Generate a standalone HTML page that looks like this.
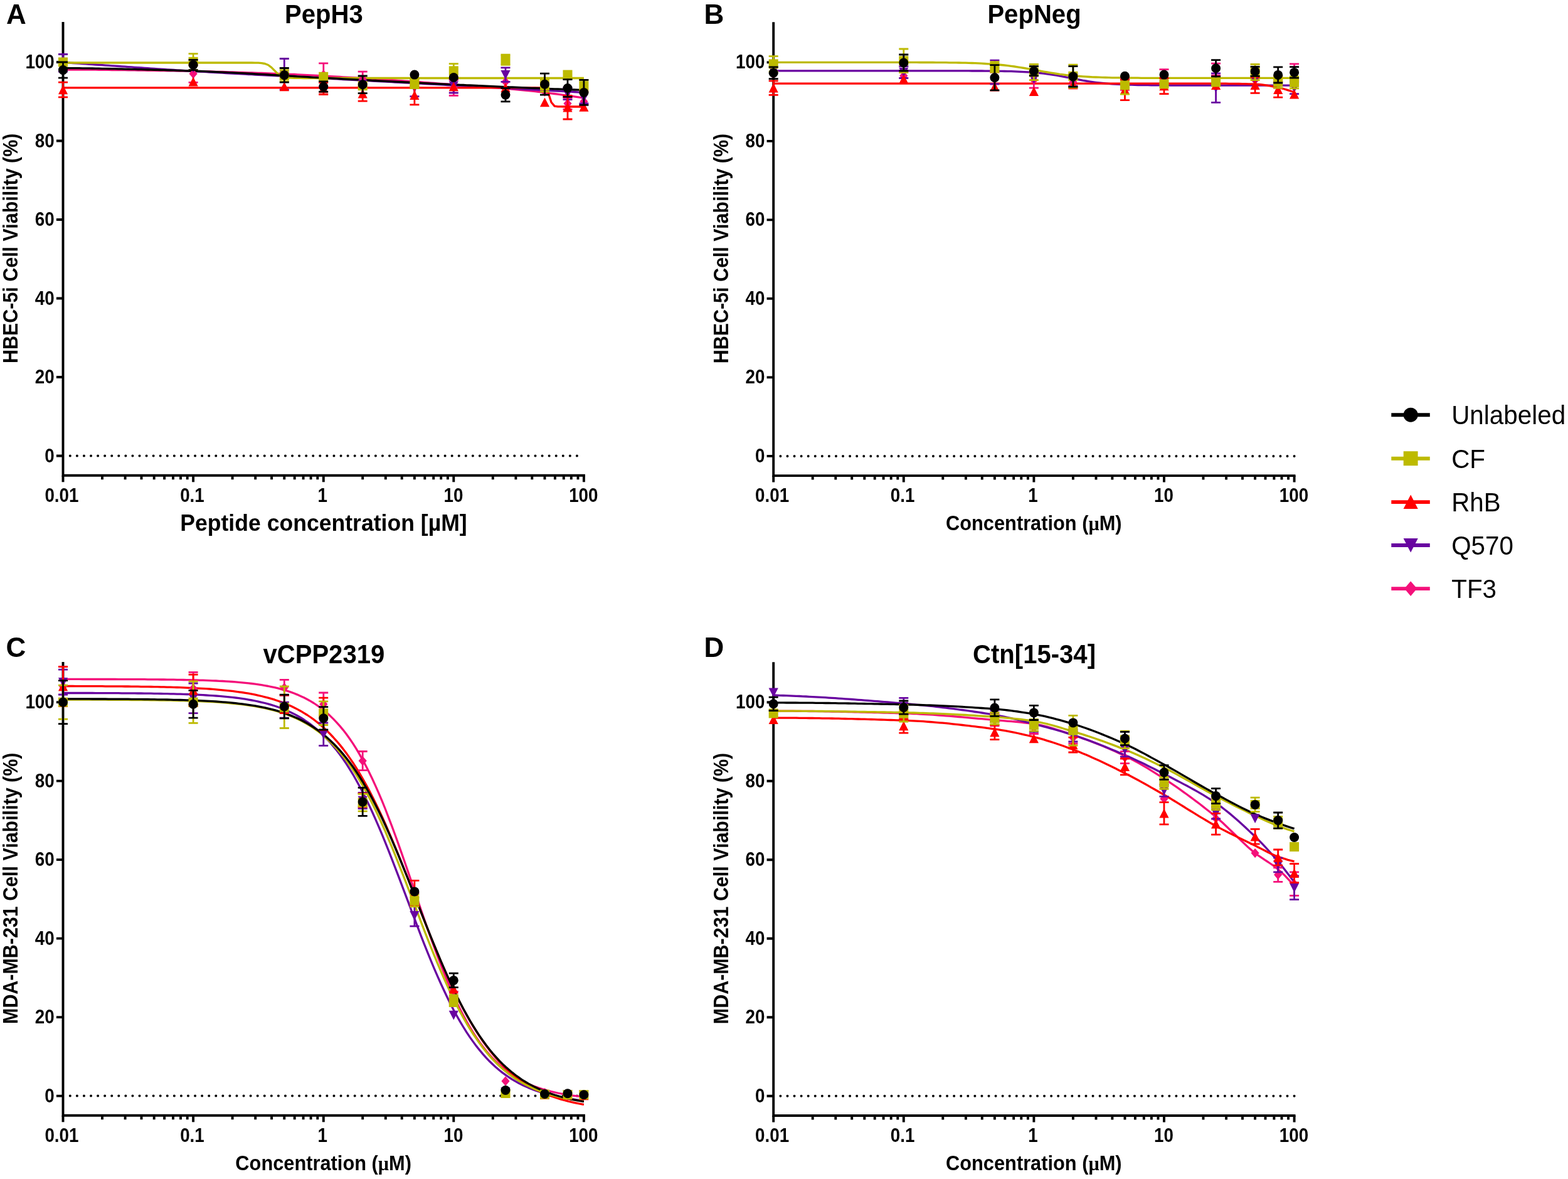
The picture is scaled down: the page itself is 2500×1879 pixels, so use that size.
<!DOCTYPE html>
<html lang="en">
<head>
<meta charset="utf-8">
<title>Cell viability of labeled peptides</title>
<style>html,body{margin:0;padding:0;background:#fff}body{width:2500px;height:1879px;overflow:hidden}svg{display:block}</style>
</head>
<body>
<svg xmlns="http://www.w3.org/2000/svg" width="2500" height="1879" viewBox="0 0 2500 1879" font-family="'Liberation Sans',Arial,Helvetica,sans-serif" fill="#000">
<rect width="2500" height="1879" fill="#fff"/>
<g id="panel-A">
<path d="M100.5 34.9V757.8H932.9" fill="none" stroke="#000" stroke-width="3.9" stroke-linejoin="miter"/>
<path d="M100.5 726.5h-10.6M100.5 601h-10.6M100.5 475.5h-10.6M100.5 350h-10.6M100.5 224.5h-10.6M100.5 99h-10.6M100.5 757.8v10.4M163 757.8v6.4M199.6 757.8v6.4M225.5 757.8v6.4M245.7 757.8v6.4M262.1 757.8v6.4M276 757.8v6.4M288 757.8v6.4M298.7 757.8v6.4M308.1 757.8v10.4M370.6 757.8v6.4M407.2 757.8v6.4M433.1 757.8v6.4M453.3 757.8v6.4M469.7 757.8v6.4M483.6 757.8v6.4M495.6 757.8v6.4M506.3 757.8v6.4M515.8 757.8v10.4M578.2 757.8v6.4M614.8 757.8v6.4M640.7 757.8v6.4M660.9 757.8v6.4M677.3 757.8v6.4M691.2 757.8v6.4M703.2 757.8v6.4M713.9 757.8v6.4M723.3 757.8v10.4M785.8 757.8v6.4M822.4 757.8v6.4M848.3 757.8v6.4M868.5 757.8v6.4M884.9 757.8v6.4M898.8 757.8v6.4M910.8 757.8v6.4M921.5 757.8v6.4M930.9 757.8v10.4" fill="none" stroke="#000" stroke-width="3.9"/>
<line x1="111.8" y1="726.5" x2="930.9" y2="726.5" stroke="#000" stroke-width="4" stroke-linecap="round" stroke-dasharray="0.01 11.06"/>
<polyline points="100.5,111 105.7,111 110.9,111 116.1,111 121.3,111 126.5,111.1 131.7,111.1 136.9,111.1 142.1,111.2 147.3,111.2 152.4,111.2 157.6,111.3 162.8,111.3 168,111.4 173.2,111.4 178.4,111.5 183.6,111.5 188.8,111.6 194,111.7 199.2,111.7 204.3,111.8 209.5,111.9 214.7,111.9 219.9,112 225.1,112.1 230.3,112.2 235.5,112.3 240.7,112.3 245.9,112.4 251.1,112.5 256.2,112.6 261.4,112.7 266.6,112.8 271.8,112.8 277,112.9 282.2,113 287.4,113.1 292.6,113.2 297.8,113.3 303,113.4 308.1,113.5 313.3,113.6 318.5,113.7 323.7,113.8 328.9,113.9 334.1,114 339.3,114.1 344.5,114.3 349.7,114.4 354.9,114.5 360.1,114.7 365.2,114.8 370.4,115 375.6,115.1 380.8,115.3 386,115.5 391.2,115.6 396.4,115.8 401.6,116 406.8,116.1 411.9,116.3 417.1,116.5 422.3,116.7 427.5,116.9 432.7,117.1 437.9,117.3 443.1,117.5 448.3,117.7 453.5,117.9 458.7,118.1 463.9,118.3 469,118.5 474.2,118.8 479.4,119.1 484.6,119.3 489.8,119.6 495,119.9 500.2,120.2 505.4,120.4 510.6,120.7 515.8,121 520.9,121.3 526.1,121.6 531.3,121.9 536.5,122.2 541.7,122.5 546.9,122.8 552.1,123.1 557.3,123.4 562.5,123.7 567.6,124 572.8,124.3 578,124.6 583.2,125 588.4,125.3 593.6,125.6 598.8,125.9 604,126.3 609.2,126.6 614.4,126.9 619.5,127.3 624.7,127.6 629.9,128 635.1,128.3 640.3,128.7 645.5,129.1 650.7,129.4 655.9,129.8 661.1,130.2 666.3,130.5 671.4,130.9 676.6,131.3 681.8,131.7 687,132.1 692.2,132.5 697.4,132.9 702.6,133.3 707.8,133.6 713,134 718.2,134.4 723.3,134.8 728.5,135.2 733.7,135.6 738.9,136 744.1,136.3 749.3,136.7 754.5,137.1 759.7,137.5 764.9,137.8 770.1,138.2 775.2,138.6 780.4,139 785.6,139.4 790.8,139.8 796,140.2 801.2,140.7 806.4,141.1 811.6,141.5 816.8,142 822,142.5 827.1,143 832.3,143.5 837.5,144 842.7,144.6 847.9,145.1 853.1,145.7 858.3,146.3 863.5,146.9 868.7,147.6 873.9,148.2 879,148.9 884.2,149.5 889.4,150.2 894.6,150.9 899.8,151.6 905,152.4 910.2,153.1 915.4,153.8 920.6,154.6 925.8,155.4 930.9,156.2" fill="none" stroke="#F4107A" stroke-width="3.3" stroke-linejoin="round"/>
<polyline points="100.5,99.4 105.7,99.7 110.9,100.1 116.1,100.5 121.3,100.8 126.5,101.2 131.7,101.6 136.9,101.9 142.1,102.3 147.3,102.7 152.4,103 157.6,103.4 162.8,103.7 168,104.1 173.2,104.4 178.4,104.8 183.6,105.2 188.8,105.5 194,105.9 199.2,106.2 204.3,106.6 209.5,106.9 214.7,107.3 219.9,107.6 225.1,108 230.3,108.4 235.5,108.7 240.7,109.1 245.9,109.4 251.1,109.8 256.2,110.1 261.4,110.5 266.6,110.8 271.8,111.2 277,111.5 282.2,111.9 287.4,112.2 292.6,112.5 297.8,112.8 303,113.2 308.1,113.5 313.3,113.8 318.5,114.1 323.7,114.4 328.9,114.7 334.1,115 339.3,115.3 344.5,115.6 349.7,115.9 354.9,116.2 360.1,116.5 365.2,116.8 370.4,117.1 375.6,117.3 380.8,117.6 386,117.9 391.2,118.2 396.4,118.5 401.6,118.7 406.8,119 411.9,119.3 417.1,119.6 422.3,119.8 427.5,120.1 432.7,120.4 437.9,120.7 443.1,120.9 448.3,121.2 453.5,121.5 458.7,121.7 463.9,122 469,122.3 474.2,122.6 479.4,122.8 484.6,123.1 489.8,123.4 495,123.7 500.2,123.9 505.4,124.2 510.6,124.5 515.8,124.8 520.9,125.1 526.1,125.3 531.3,125.6 536.5,125.9 541.7,126.2 546.9,126.5 552.1,126.8 557.3,127 562.5,127.3 567.6,127.6 572.8,127.9 578,128.2 583.2,128.4 588.4,128.7 593.6,129 598.8,129.3 604,129.6 609.2,129.9 614.4,130.1 619.5,130.4 624.7,130.7 629.9,131 635.1,131.3 640.3,131.6 645.5,131.8 650.7,132.1 655.9,132.4 661.1,132.7 666.3,133 671.4,133.2 676.6,133.5 681.8,133.8 687,134.1 692.2,134.4 697.4,134.7 702.6,134.9 707.8,135.2 713,135.5 718.2,135.8 723.3,136.1 728.5,136.4 733.7,136.6 738.9,136.9 744.1,137.2 749.3,137.5 754.5,137.8 759.7,138 764.9,138.3 770.1,138.6 775.2,138.9 780.4,139.2 785.6,139.5 790.8,139.7 796,140 801.2,140.3 806.4,140.6 811.6,140.9 816.8,141.2 822,141.4 827.1,141.7 832.3,142 837.5,142.3 842.7,142.6 847.9,142.8 853.1,143.1 858.3,143.4 863.5,143.7 868.7,144 873.9,144.3 879,144.5 884.2,144.8 889.4,145.1 894.6,145.4 899.8,145.7 905,146 910.2,146.2 915.4,146.5 920.6,146.8 925.8,147.1 930.9,147.4" fill="none" stroke="#6804A0" stroke-width="3.3" stroke-linejoin="round"/>
<polyline points="100.5,139.8 105.7,139.8 110.9,139.8 116.1,139.8 121.3,139.8 126.5,139.8 131.7,139.8 136.9,139.8 142.1,139.8 147.3,139.8 152.4,139.8 157.6,139.8 162.8,139.8 168,139.8 173.2,139.8 178.4,139.8 183.6,139.8 188.8,139.8 194,139.8 199.2,139.8 204.3,139.8 209.5,139.8 214.7,139.8 219.9,139.8 225.1,139.8 230.3,139.8 235.5,139.8 240.7,139.8 245.9,139.8 251.1,139.8 256.2,139.8 261.4,139.8 266.6,139.8 271.8,139.8 277,139.8 282.2,139.8 287.4,139.8 292.6,139.8 297.8,139.8 303,139.8 308.1,139.8 313.3,139.8 318.5,139.8 323.7,139.8 328.9,139.8 334.1,139.8 339.3,139.8 344.5,139.8 349.7,139.8 354.9,139.8 360.1,139.8 365.2,139.8 370.4,139.8 375.6,139.8 380.8,139.8 386,139.8 391.2,139.8 396.4,139.8 401.6,139.8 406.8,139.8 411.9,139.8 417.1,139.8 422.3,139.8 427.5,139.8 432.7,139.8 437.9,139.8 443.1,139.8 448.3,139.8 453.5,139.8 458.7,139.8 463.9,139.8 469,139.8 474.2,139.8 479.4,139.8 484.6,139.8 489.8,139.8 495,139.8 500.2,139.8 505.4,139.8 510.6,139.8 515.8,139.8 520.9,139.8 526.1,139.8 531.3,139.8 536.5,139.8 541.7,139.8 546.9,139.8 552.1,139.8 557.3,139.8 562.5,139.8 567.6,139.8 572.8,139.8 578,139.8 583.2,139.8 588.4,139.8 593.6,139.8 598.8,139.8 604,139.8 609.2,139.8 614.4,139.8 619.5,139.8 624.7,139.8 629.9,139.8 635.1,139.8 640.3,139.8 645.5,139.8 650.7,139.8 655.9,139.8 661.1,139.8 666.3,139.8 671.4,139.8 676.6,139.8 681.8,139.8 687,139.8 692.2,139.8 697.4,139.8 702.6,139.8 707.8,139.8 713,139.8 718.2,139.8 723.3,139.8 728.5,139.8 733.7,139.8 738.9,139.8 744.1,139.8 749.3,139.8 754.5,139.8 759.7,139.8 764.9,139.8 770.1,139.8 775.2,139.8 780.4,139.8 785.6,139.8 790.8,139.8 796,139.8 801.2,139.8 806.4,139.8 811.6,139.8 816.8,139.8 822,139.8 827.1,139.8 832.3,139.8 837.5,139.8 842.7,139.8 847.9,139.8 853.1,139.8 858.3,139.8 863.5,139.9 868.7,140.8 873.9,147.3 879,163 884.2,169.1 889.4,169.9 894.6,169.9 899.8,170 905,170 910.2,170 915.4,170 920.6,170 925.8,170 930.9,170" fill="none" stroke="#FF0000" stroke-width="3.3" stroke-linejoin="round"/>
<polyline points="100.5,100 105.7,100 110.9,100 116.1,100 121.3,100 126.5,100 131.7,100 136.9,100 142.1,100 147.3,100 152.4,100 157.6,100 162.8,100 168,100 173.2,100 178.4,100 183.6,100 188.8,100 194,100 199.2,100 204.3,100 209.5,100 214.7,100 219.9,100 225.1,100 230.3,100 235.5,100 240.7,100 245.9,100 251.1,100 256.2,100 261.4,100 266.6,100 271.8,100 277,100 282.2,100 287.4,100 292.6,100 297.8,100 303,100 308.1,100 313.3,100 318.5,100 323.7,100 328.9,100 334.1,100 339.3,100 344.5,100 349.7,100 354.9,100 360.1,100 365.2,100 370.4,100 375.6,100 380.8,100 386,100 391.2,100 396.4,100 401.6,100 406.8,100.1 411.9,100.2 417.1,100.6 422.3,101.5 427.5,103.5 432.7,107.3 437.9,112.6 443.1,117.8 448.3,121.3 453.5,123.1 458.7,123.9 463.9,124.2 469,124.4 474.2,124.4 479.4,124.4 484.6,124.5 489.8,124.5 495,124.5 500.2,124.5 505.4,124.5 510.6,124.5 515.8,124.5 520.9,124.5 526.1,124.5 531.3,124.5 536.5,124.5 541.7,124.5 546.9,124.5 552.1,124.5 557.3,124.5 562.5,124.5 567.6,124.5 572.8,124.5 578,124.5 583.2,124.5 588.4,124.5 593.6,124.5 598.8,124.5 604,124.5 609.2,124.5 614.4,124.5 619.5,124.5 624.7,124.5 629.9,124.5 635.1,124.5 640.3,124.5 645.5,124.5 650.7,124.5 655.9,124.5 661.1,124.5 666.3,124.5 671.4,124.5 676.6,124.5 681.8,124.5 687,124.5 692.2,124.5 697.4,124.5 702.6,124.5 707.8,124.5 713,124.5 718.2,124.5 723.3,124.5 728.5,124.5 733.7,124.5 738.9,124.5 744.1,124.5 749.3,124.5 754.5,124.5 759.7,124.5 764.9,124.5 770.1,124.5 775.2,124.5 780.4,124.5 785.6,124.5 790.8,124.5 796,124.5 801.2,124.5 806.4,124.5 811.6,124.5 816.8,124.5 822,124.5 827.1,124.5 832.3,124.5 837.5,124.5 842.7,124.5 847.9,124.5 853.1,124.5 858.3,124.5 863.5,124.5 868.7,124.5 873.9,124.5 879,124.5 884.2,124.5 889.4,124.5 894.6,124.5 899.8,124.5 905,124.5 910.2,124.5 915.4,124.5 920.6,124.5 925.8,124.5 930.9,124.5" fill="none" stroke="#BDBA00" stroke-width="3.3" stroke-linejoin="round"/>
<polyline points="100.5,108.5 105.7,108.5 110.9,108.6 116.1,108.6 121.3,108.7 126.5,108.7 131.7,108.8 136.9,108.9 142.1,108.9 147.3,109 152.4,109.1 157.6,109.2 162.8,109.3 168,109.4 173.2,109.5 178.4,109.6 183.6,109.7 188.8,109.8 194,109.9 199.2,110.1 204.3,110.2 209.5,110.3 214.7,110.4 219.9,110.6 225.1,110.7 230.3,110.9 235.5,111 240.7,111.1 245.9,111.3 251.1,111.4 256.2,111.6 261.4,111.7 266.6,111.9 271.8,112 277,112.2 282.2,112.4 287.4,112.5 292.6,112.7 297.8,112.8 303,113 308.1,113.2 313.3,113.3 318.5,113.5 323.7,113.7 328.9,113.9 334.1,114.1 339.3,114.3 344.5,114.6 349.7,114.8 354.9,115.1 360.1,115.3 365.2,115.6 370.4,115.8 375.6,116.1 380.8,116.4 386,116.7 391.2,116.9 396.4,117.2 401.6,117.5 406.8,117.8 411.9,118.1 417.1,118.4 422.3,118.7 427.5,119 432.7,119.4 437.9,119.7 443.1,120 448.3,120.3 453.5,120.6 458.7,120.9 463.9,121.2 469,121.5 474.2,121.8 479.4,122.1 484.6,122.4 489.8,122.7 495,123 500.2,123.3 505.4,123.6 510.6,123.9 515.8,124.1 520.9,124.4 526.1,124.7 531.3,125 536.5,125.2 541.7,125.5 546.9,125.8 552.1,126.1 557.3,126.3 562.5,126.6 567.6,126.9 572.8,127.2 578,127.4 583.2,127.7 588.4,128 593.6,128.3 598.8,128.5 604,128.8 609.2,129.1 614.4,129.4 619.5,129.6 624.7,129.9 629.9,130.2 635.1,130.4 640.3,130.7 645.5,131 650.7,131.2 655.9,131.5 661.1,131.8 666.3,132 671.4,132.3 676.6,132.6 681.8,132.8 687,133.1 692.2,133.3 697.4,133.6 702.6,133.8 707.8,134.1 713,134.3 718.2,134.6 723.3,134.8 728.5,135.1 733.7,135.3 738.9,135.5 744.1,135.8 749.3,136 754.5,136.2 759.7,136.5 764.9,136.7 770.1,136.9 775.2,137.2 780.4,137.4 785.6,137.6 790.8,137.9 796,138.1 801.2,138.3 806.4,138.5 811.6,138.8 816.8,139 822,139.2 827.1,139.4 832.3,139.7 837.5,139.9 842.7,140.1 847.9,140.3 853.1,140.5 858.3,140.7 863.5,140.9 868.7,141.2 873.9,141.4 879,141.6 884.2,141.8 889.4,142 894.6,142.2 899.8,142.4 905,142.6 910.2,142.8 915.4,143 920.6,143.2 925.8,143.4 930.9,143.6" fill="none" stroke="#000000" stroke-width="3.3" stroke-linejoin="round"/>
<path d="M308.1 103.8V131.4M300.6 103.8h15M300.6 131.4h15M515.8 100.9V137.3M508.2 100.9h15M508.2 137.3h15M578.2 114.1V138M570.7 114.1h15M570.7 138h15M723.3 127.3V152.4M715.8 127.3h15M715.8 152.4h15M905 155.5V174.3M897.5 155.5h15M897.5 174.3h15" fill="none" stroke="#F4107A" stroke-width="2.8"/>
<path d="M100.5 103.9L107.1 111.6L100.5 119.3L94 111.6Z" fill="#F4107A"/>
<path d="M308.1 109.9L314.8 117.6L308.1 125.3L301.5 117.6Z" fill="#F4107A"/>
<path d="M453.3 113.3L459.9 121L453.3 128.7L446.7 121Z" fill="#F4107A"/>
<path d="M515.8 111.4L522.4 119.1L515.8 126.8L509.1 119.1Z" fill="#F4107A"/>
<path d="M578.2 118.3L584.8 126L578.2 133.7L571.6 126Z" fill="#F4107A"/>
<path d="M660.9 129L667.5 136.7L660.9 144.4L654.3 136.7Z" fill="#F4107A"/>
<path d="M723.3 132.1L729.9 139.8L723.3 147.5L716.7 139.8Z" fill="#F4107A"/>
<path d="M806 122.7L812.6 130.4L806 138.1L799.4 130.4Z" fill="#F4107A"/>
<path d="M868.5 138.4L875.1 146.1L868.5 153.8L861.9 146.1Z" fill="#F4107A"/>
<path d="M905 157.2L911.6 164.9L905 172.6L898.4 164.9Z" fill="#F4107A"/>
<path d="M930.9 154.1L937.5 161.8L930.9 169.5L924.3 161.8Z" fill="#F4107A"/>
<path d="M100.5 86.5V114.1M93 86.5h15M93 114.1h15M453.3 93.5V142.8M445.8 93.5h15M445.8 142.8h15M660.9 126V153.6M653.4 126h15M653.4 153.6h15M723.3 125.4V148M715.8 125.4h15M715.8 148h15M806 107.8V130.4M798.5 107.8h15M798.5 130.4h15M905 139.8V158.7M897.5 139.8h15M897.5 158.7h15M930.9 146.1V164.9M923.4 146.1h15M923.4 164.9h15" fill="none" stroke="#6804A0" stroke-width="2.8"/>
<path d="M100.5 107.9L108.1 93.1H93Z" fill="#6804A0"/>
<path d="M308.1 115.4L315.8 100.6H300.5Z" fill="#6804A0"/>
<path d="M453.3 125.8L460.9 111H445.7Z" fill="#6804A0"/>
<path d="M515.8 134.9L523.4 120.1H508.1Z" fill="#6804A0"/>
<path d="M578.2 142.4L585.8 127.6H570.6Z" fill="#6804A0"/>
<path d="M660.9 147.4L668.5 132.6H653.3Z" fill="#6804A0"/>
<path d="M723.3 144.3L730.9 129.5H715.7Z" fill="#6804A0"/>
<path d="M806 126.7L813.6 111.9H798.4Z" fill="#6804A0"/>
<path d="M868.5 150.6L876.1 135.8H860.9Z" fill="#6804A0"/>
<path d="M905 156.8L912.6 142H897.4Z" fill="#6804A0"/>
<path d="M930.9 163.1L938.5 148.3H923.3Z" fill="#6804A0"/>
<path d="M100.5 131.1V154.9M93 131.1h15M93 154.9h15M515.8 131.7V150.5M508.2 131.7h15M508.2 150.5h15M578.2 137.3V161.2M570.7 137.3h15M570.7 161.2h15M660.9 136.7V166.8M653.4 136.7h15M653.4 166.8h15M905 152.4V190M897.5 152.4h15M897.5 190h15" fill="none" stroke="#FF0000" stroke-width="2.8"/>
<path d="M100.5 135.4L108.1 150.2H93Z" fill="#FF0000"/>
<path d="M308.1 122.8L315.8 137.6H300.5Z" fill="#FF0000"/>
<path d="M453.3 130.4L460.9 145.2H445.7Z" fill="#FF0000"/>
<path d="M515.8 133.5L523.4 148.3H508.1Z" fill="#FF0000"/>
<path d="M578.2 141.6L585.8 156.5H570.6Z" fill="#FF0000"/>
<path d="M660.9 144.2L668.5 159H653.3Z" fill="#FF0000"/>
<path d="M723.3 130.4L730.9 145.2H715.7Z" fill="#FF0000"/>
<path d="M806 132.2L813.6 147.1H798.4Z" fill="#FF0000"/>
<path d="M868.5 155.5L876.1 170.3H860.9Z" fill="#FF0000"/>
<path d="M905 163.6L912.6 178.4H897.4Z" fill="#FF0000"/>
<path d="M930.9 163L938.5 177.8H923.3Z" fill="#FF0000"/>
<path d="M308.1 85.6V111.3M300.6 85.6h15M300.6 111.3h15M453.3 111.6V130.4M445.8 111.6h15M445.8 130.4h15M660.9 124.1V140.5M653.4 124.1h15M653.4 140.5h15M723.3 101.6V124.1M715.8 101.6h15M715.8 124.1h15M806 87.1V103.4M798.5 87.1h15M798.5 103.4h15M868.5 127.3V146.1M861 127.3h15M861 146.1h15M930.9 127.3V146.1M923.4 127.3h15M923.4 146.1h15" fill="none" stroke="#BDBA00" stroke-width="2.8"/>
<rect x="93" y="91.5" width="15" height="15" fill="#BDBA00"/>
<rect x="300.6" y="90.9" width="15" height="15" fill="#BDBA00"/>
<rect x="445.8" y="113.5" width="15" height="15" fill="#BDBA00"/>
<rect x="508.2" y="114.8" width="15" height="15" fill="#BDBA00"/>
<rect x="570.7" y="129.2" width="15" height="15" fill="#BDBA00"/>
<rect x="653.4" y="124.8" width="15" height="15" fill="#BDBA00"/>
<rect x="715.8" y="105.4" width="15" height="15" fill="#BDBA00"/>
<rect x="798.5" y="87.8" width="15" height="15" fill="#BDBA00"/>
<rect x="861" y="129.2" width="15" height="15" fill="#BDBA00"/>
<rect x="897.5" y="111.6" width="15" height="15" fill="#BDBA00"/>
<rect x="923.4" y="129.2" width="15" height="15" fill="#BDBA00"/>
<path d="M100.5 99V124.1M93 99h15M93 124.1h15M308.1 95.3V111.6M300.6 95.3h15M300.6 111.6h15M453.3 108.5V131.1M445.8 108.5h15M445.8 131.1h15M515.8 129.8V146.1M508.2 129.8h15M508.2 146.1h15M578.2 121V148.6M570.7 121h15M570.7 148.6h15M806 140.5V161.8M798.5 140.5h15M798.5 161.8h15M868.5 117.2V151.1M861 117.2h15M861 151.1h15M905 126.7V154.3M897.5 126.7h15M897.5 154.3h15M930.9 127.3V167.4M923.4 127.3h15M923.4 167.4h15" fill="none" stroke="#000000" stroke-width="2.8"/>
<circle cx="100.5" cy="111.6" r="7.5" fill="#000000"/>
<circle cx="308.1" cy="103.4" r="7.5" fill="#000000"/>
<circle cx="453.3" cy="119.8" r="7.5" fill="#000000"/>
<circle cx="515.8" cy="138" r="7.5" fill="#000000"/>
<circle cx="578.2" cy="134.8" r="7.5" fill="#000000"/>
<circle cx="660.9" cy="119.1" r="7.5" fill="#000000"/>
<circle cx="723.3" cy="123.5" r="7.5" fill="#000000"/>
<circle cx="806" cy="151.1" r="7.5" fill="#000000"/>
<circle cx="868.5" cy="134.2" r="7.5" fill="#000000"/>
<circle cx="905" cy="140.5" r="7.5" fill="#000000"/>
<circle cx="930.9" cy="147.4" r="7.5" fill="#000000"/>
<text transform="translate(9.9 38)" font-size="44.0" font-weight="bold" text-anchor="start">A</text>
<text transform="translate(516.35 37.1) scale(1 1.065)" font-size="40.1" font-weight="bold" text-anchor="middle">PepH3</text>
<text transform="translate(86.75 736.55) scale(1 1.12)" font-size="27.8" font-weight="bold" text-anchor="end">0</text>
<text transform="translate(86.75 611.05) scale(1 1.12)" font-size="27.8" font-weight="bold" text-anchor="end">20</text>
<text transform="translate(86.75 485.55) scale(1 1.12)" font-size="27.8" font-weight="bold" text-anchor="end">40</text>
<text transform="translate(86.75 360.05) scale(1 1.12)" font-size="27.8" font-weight="bold" text-anchor="end">60</text>
<text transform="translate(86.75 234.55) scale(1 1.12)" font-size="27.8" font-weight="bold" text-anchor="end">80</text>
<text transform="translate(86.75 109.05) scale(1 1.12)" font-size="27.8" font-weight="bold" text-anchor="end">100</text>
<text transform="translate(98.45 800.4) scale(1 1.12)" font-size="27.8" font-weight="bold" text-anchor="middle">0.01</text>
<text transform="translate(306.45 800.4) scale(1 1.12)" font-size="27.8" font-weight="bold" text-anchor="middle">0.1</text>
<text transform="translate(514.35 800.4) scale(1 1.12)" font-size="27.8" font-weight="bold" text-anchor="middle">1</text>
<text transform="translate(722.9 800.4) scale(1 1.12)" font-size="27.8" font-weight="bold" text-anchor="middle">10</text>
<text transform="translate(930.35 800.4) scale(1 1.12)" font-size="27.8" font-weight="bold" text-anchor="middle">100</text>
<text transform="translate(27.9 395.75) rotate(-90) scale(1 1.07)" font-size="30.45" font-weight="bold" text-anchor="middle">HBEC-5i Cell Viability (%)</text>
<text transform="translate(515.95 846.4) scale(1 1.03)" font-size="35.6" font-weight="bold" text-anchor="middle">Peptide concentration [µM]</text>
</g>
<g id="panel-B">
<path d="M1233.2 35.2V758.1H2065.5" fill="none" stroke="#000" stroke-width="3.9" stroke-linejoin="miter"/>
<path d="M1233.2 726.9h-10.6M1233.2 601.4h-10.6M1233.2 475.9h-10.6M1233.2 350.4h-10.6M1233.2 224.9h-10.6M1233.2 99.4h-10.6M1233.2 758.1v10.4M1295.7 758.1v6.4M1332.3 758.1v6.4M1358.2 758.1v6.4M1378.3 758.1v6.4M1394.7 758.1v6.4M1408.6 758.1v6.4M1420.7 758.1v6.4M1431.3 758.1v6.4M1440.8 758.1v10.4M1503.3 758.1v6.4M1539.9 758.1v6.4M1565.8 758.1v6.4M1585.9 758.1v6.4M1602.3 758.1v6.4M1616.2 758.1v6.4M1628.3 758.1v6.4M1638.9 758.1v6.4M1648.4 758.1v10.4M1710.9 758.1v6.4M1747.5 758.1v6.4M1773.4 758.1v6.4M1793.5 758.1v6.4M1809.9 758.1v6.4M1823.8 758.1v6.4M1835.9 758.1v6.4M1846.5 758.1v6.4M1856 758.1v10.4M1918.5 758.1v6.4M1955.1 758.1v6.4M1981 758.1v6.4M2001.1 758.1v6.4M2017.5 758.1v6.4M2031.4 758.1v6.4M2043.5 758.1v6.4M2054.1 758.1v6.4M2063.6 758.1v10.4" fill="none" stroke="#000" stroke-width="3.9"/>
<line x1="1244.4" y1="726.9" x2="2063.6" y2="726.9" stroke="#000" stroke-width="4" stroke-linecap="round" stroke-dasharray="0.01 11.06"/>
<polyline points="1233.2,112.8 1238.4,112.8 1243.6,112.8 1248.8,112.8 1254,112.8 1259.2,112.8 1264.3,112.8 1269.5,112.8 1274.7,112.8 1279.9,112.8 1285.1,112.8 1290.3,112.8 1295.5,112.8 1300.7,112.8 1305.9,112.8 1311,112.8 1316.2,112.8 1321.4,112.8 1326.6,112.8 1331.8,112.8 1337,112.8 1342.2,112.8 1347.4,112.8 1352.6,112.8 1357.8,112.8 1363,112.8 1368.1,112.8 1373.3,112.8 1378.5,112.8 1383.7,112.8 1388.9,112.8 1394.1,112.8 1399.3,112.8 1404.5,112.8 1409.7,112.8 1414.9,112.8 1420,112.8 1425.2,112.8 1430.4,112.8 1435.6,112.8 1440.8,112.8 1446,112.8 1451.2,112.8 1456.4,112.8 1461.6,112.8 1466.8,112.8 1471.9,112.8 1477.1,112.9 1482.3,112.9 1487.5,112.9 1492.7,112.9 1497.9,112.9 1503.1,112.9 1508.3,112.9 1513.5,112.9 1518.7,112.9 1523.8,112.9 1529,112.9 1534.2,112.9 1539.4,112.9 1544.6,112.9 1549.8,113 1555,113 1560.2,113 1565.4,113 1570.5,113.1 1575.7,113.1 1580.9,113.2 1586.1,113.2 1591.3,113.3 1596.5,113.4 1601.7,113.5 1606.9,113.6 1612.1,113.7 1617.3,113.9 1622.5,114.1 1627.6,114.3 1632.8,114.6 1638,114.9 1643.2,115.2 1648.4,115.6 1653.6,116.1 1658.8,116.6 1664,117.2 1669.2,117.9 1674.3,118.6 1679.5,119.4 1684.7,120.2 1689.9,121.1 1695.1,122.1 1700.3,123.1 1705.5,124.1 1710.7,125.1 1715.9,126.1 1721.1,127.1 1726.2,128.1 1731.4,129 1736.6,129.8 1741.8,130.6 1747,131.3 1752.2,131.9 1757.4,132.5 1762.6,133 1767.8,133.4 1773,133.8 1778.2,134.1 1783.3,134.4 1788.5,134.7 1793.7,134.9 1798.9,135.1 1804.1,135.2 1809.3,135.3 1814.5,135.5 1819.7,135.6 1824.9,135.6 1830.1,135.7 1835.2,135.8 1840.4,135.8 1845.6,135.8 1850.8,135.9 1856,135.9 1861.2,135.9 1866.4,136 1871.6,136 1876.8,136 1882,136 1887.1,136 1892.3,136 1897.5,136 1902.7,136 1907.9,136 1913.1,136 1918.3,136 1923.5,136 1928.7,136 1933.8,136 1939,136 1944.2,136.1 1949.4,136.1 1954.6,136.1 1959.8,136.1 1965,136.1 1970.2,136.1 1975.4,136.1 1980.6,136.1 1985.8,136.1 1990.9,136.1 1996.1,136.1 2001.3,136.1 2006.5,136.1 2011.7,136.1 2016.9,136.1 2022.1,136.1 2027.3,136.1 2032.5,136.1 2037.7,136.1 2042.8,136.1 2048,136.1 2053.2,136.1 2058.4,136.1 2063.6,136.1" fill="none" stroke="#6804A0" stroke-width="3.3" stroke-linejoin="round"/>
<polyline points="1233.2,133.2 1238.4,133.2 1243.6,133.2 1248.8,133.2 1254,133.2 1259.2,133.2 1264.3,133.2 1269.5,133.2 1274.7,133.2 1279.9,133.2 1285.1,133.2 1290.3,133.2 1295.5,133.2 1300.7,133.2 1305.9,133.2 1311,133.2 1316.2,133.2 1321.4,133.2 1326.6,133.2 1331.8,133.2 1337,133.2 1342.2,133.2 1347.4,133.2 1352.6,133.2 1357.8,133.2 1363,133.2 1368.1,133.2 1373.3,133.2 1378.5,133.2 1383.7,133.2 1388.9,133.2 1394.1,133.2 1399.3,133.2 1404.5,133.2 1409.7,133.2 1414.9,133.2 1420,133.2 1425.2,133.2 1430.4,133.2 1435.6,133.2 1440.8,133.2 1446,133.2 1451.2,133.2 1456.4,133.2 1461.6,133.2 1466.8,133.2 1471.9,133.2 1477.1,133.2 1482.3,133.2 1487.5,133.2 1492.7,133.2 1497.9,133.2 1503.1,133.2 1508.3,133.2 1513.5,133.2 1518.7,133.2 1523.8,133.2 1529,133.2 1534.2,133.2 1539.4,133.2 1544.6,133.2 1549.8,133.2 1555,133.2 1560.2,133.2 1565.4,133.2 1570.5,133.2 1575.7,133.2 1580.9,133.2 1586.1,133.2 1591.3,133.2 1596.5,133.2 1601.7,133.2 1606.9,133.2 1612.1,133.2 1617.3,133.2 1622.5,133.2 1627.6,133.2 1632.8,133.2 1638,133.2 1643.2,133.2 1648.4,133.2 1653.6,133.2 1658.8,133.2 1664,133.2 1669.2,133.2 1674.3,133.2 1679.5,133.2 1684.7,133.2 1689.9,133.2 1695.1,133.2 1700.3,133.2 1705.5,133.2 1710.7,133.2 1715.9,133.2 1721.1,133.2 1726.2,133.2 1731.4,133.2 1736.6,133.2 1741.8,133.2 1747,133.2 1752.2,133.2 1757.4,133.2 1762.6,133.2 1767.8,133.2 1773,133.2 1778.2,133.2 1783.3,133.2 1788.5,133.2 1793.7,133.2 1798.9,133.2 1804.1,133.2 1809.3,133.2 1814.5,133.2 1819.7,133.2 1824.9,133.2 1830.1,133.2 1835.2,133.2 1840.4,133.2 1845.6,133.2 1850.8,133.2 1856,133.2 1861.2,133.2 1866.4,133.2 1871.6,133.2 1876.8,133.2 1882,133.2 1887.1,133.2 1892.3,133.2 1897.5,133.2 1902.7,133.2 1907.9,133.2 1913.1,133.2 1918.3,133.2 1923.5,133.2 1928.7,133.2 1933.8,133.2 1939,133.2 1944.2,133.2 1949.4,133.2 1954.6,133.2 1959.8,133.3 1965,133.3 1970.2,133.4 1975.4,133.5 1980.6,133.6 1985.8,133.7 1990.9,133.9 1996.1,134 2001.3,134.2 2006.5,134.5 2011.7,135 2016.9,135.7 2022.1,136.5 2027.3,137.5 2032.5,138.5 2037.7,139.5 2042.8,140.7 2048,142 2053.2,143.6 2058.4,145.3 2063.6,147" fill="none" stroke="#FF0000" stroke-width="3.3" stroke-linejoin="round"/>
<polyline points="1233.2,99.4 1238.4,99.4 1243.6,99.4 1248.8,99.4 1254,99.4 1259.2,99.4 1264.3,99.4 1269.5,99.4 1274.7,99.4 1279.9,99.4 1285.1,99.4 1290.3,99.4 1295.5,99.4 1300.7,99.4 1305.9,99.4 1311,99.4 1316.2,99.4 1321.4,99.4 1326.6,99.4 1331.8,99.4 1337,99.4 1342.2,99.4 1347.4,99.4 1352.6,99.4 1357.8,99.4 1363,99.4 1368.1,99.4 1373.3,99.4 1378.5,99.4 1383.7,99.4 1388.9,99.4 1394.1,99.4 1399.3,99.4 1404.5,99.4 1409.7,99.4 1414.9,99.4 1420,99.4 1425.2,99.4 1430.4,99.4 1435.6,99.4 1440.8,99.4 1446,99.4 1451.2,99.4 1456.4,99.4 1461.6,99.4 1466.8,99.5 1471.9,99.5 1477.1,99.5 1482.3,99.5 1487.5,99.5 1492.7,99.6 1497.9,99.6 1503.1,99.7 1508.3,99.7 1513.5,99.8 1518.7,99.8 1523.8,99.9 1529,100 1534.2,100.1 1539.4,100.2 1544.6,100.4 1549.8,100.5 1555,100.7 1560.2,100.9 1565.4,101.2 1570.5,101.5 1575.7,101.8 1580.9,102.1 1586.1,102.5 1591.3,103 1596.5,103.5 1601.7,104 1606.9,104.6 1612.1,105.3 1617.3,106 1622.5,106.8 1627.6,107.6 1632.8,108.5 1638,109.4 1643.2,110.3 1648.4,111.2 1653.6,112.2 1658.8,113.2 1664,114.1 1669.2,115 1674.3,115.9 1679.5,116.7 1684.7,117.5 1689.9,118.3 1695.1,118.9 1700.3,119.6 1705.5,120.1 1710.7,120.7 1715.9,121.1 1721.1,121.5 1726.2,121.9 1731.4,122.2 1736.6,122.5 1741.8,122.8 1747,123 1752.2,123.2 1757.4,123.4 1762.6,123.5 1767.8,123.6 1773,123.8 1778.2,123.9 1783.3,123.9 1788.5,124 1793.7,124.1 1798.9,124.1 1804.1,124.2 1809.3,124.2 1814.5,124.2 1819.7,124.3 1824.9,124.3 1830.1,124.3 1835.2,124.3 1840.4,124.4 1845.6,124.4 1850.8,124.4 1856,124.4 1861.2,124.4 1866.4,124.4 1871.6,124.4 1876.8,124.4 1882,124.4 1887.1,124.4 1892.3,124.4 1897.5,124.4 1902.7,124.4 1907.9,124.4 1913.1,124.4 1918.3,124.4 1923.5,124.4 1928.7,124.4 1933.8,124.4 1939,124.4 1944.2,124.4 1949.4,124.4 1954.6,124.4 1959.8,124.4 1965,124.4 1970.2,124.4 1975.4,124.4 1980.6,124.4 1985.8,124.4 1990.9,124.4 1996.1,124.4 2001.3,124.4 2006.5,124.4 2011.7,124.4 2016.9,124.4 2022.1,124.4 2027.3,124.4 2032.5,124.4 2037.7,124.4 2042.8,124.4 2048,124.4 2053.2,124.4 2058.4,124.4 2063.6,124.4" fill="none" stroke="#BDBA00" stroke-width="3.3" stroke-linejoin="round"/>
<path d="M1585.9 115V133.9M1578.4 115h15M1578.4 133.9h15M1648.4 115V140.1M1640.9 115h15M1640.9 140.1h15M1710.9 121.3V140.1M1703.4 121.3h15M1703.4 140.1h15M1793.5 124.4V143.3M1786 124.4h15M1786 143.3h15M1856 110.6V132M1848.5 110.6h15M1848.5 132h15M1938.6 101.2V120.1M1931.1 101.2h15M1931.1 120.1h15M2037.7 121.3V140.1M2030.2 121.3h15M2030.2 140.1h15M2063.6 101.9V128.2M2056.1 101.9h15M2056.1 128.2h15" fill="none" stroke="#F4107A" stroke-width="2.8"/>
<path d="M1233.2 110.5L1239.8 118.2L1233.2 125.9L1226.6 118.2Z" fill="#F4107A"/>
<path d="M1440.8 113L1447.4 120.7L1440.8 128.4L1434.2 120.7Z" fill="#F4107A"/>
<path d="M1585.9 116.7L1592.5 124.4L1585.9 132.1L1579.3 124.4Z" fill="#F4107A"/>
<path d="M1648.4 119.9L1655 127.6L1648.4 135.3L1641.8 127.6Z" fill="#F4107A"/>
<path d="M1710.9 123L1717.5 130.7L1710.9 138.4L1704.3 130.7Z" fill="#F4107A"/>
<path d="M1793.5 126.2L1800.1 133.9L1793.5 141.6L1786.9 133.9Z" fill="#F4107A"/>
<path d="M1856 113.6L1862.6 121.3L1856 129L1849.4 121.3Z" fill="#F4107A"/>
<path d="M1938.6 102.9L1945.2 110.6L1938.6 118.3L1932 110.6Z" fill="#F4107A"/>
<path d="M2001.1 119.9L2007.7 127.6L2001.1 135.3L1994.5 127.6Z" fill="#F4107A"/>
<path d="M2037.7 123L2044.3 130.7L2037.7 138.4L2031.1 130.7Z" fill="#F4107A"/>
<path d="M2063.6 107.3L2070.2 115L2063.6 122.7L2057 115Z" fill="#F4107A"/>
<path d="M1440.8 105.6V124.5M1433.3 105.6h15M1433.3 124.5h15M1585.9 96.2V133.9M1578.4 96.2h15M1578.4 133.9h15M1710.9 118.2V137M1703.4 118.2h15M1703.4 137h15M1938.6 116.9V163.4M1931.1 116.9h15M1931.1 163.4h15M2063.6 130.7V149.6M2056.1 130.7h15M2056.1 149.6h15" fill="none" stroke="#6804A0" stroke-width="2.8"/>
<path d="M1233.2 120.8L1240.8 105.9H1225.6Z" fill="#6804A0"/>
<path d="M1440.8 122.6L1448.4 107.8H1433.2Z" fill="#6804A0"/>
<path d="M1585.9 122.6L1593.5 107.8H1578.3Z" fill="#6804A0"/>
<path d="M1648.4 133.3L1656 118.5H1640.8Z" fill="#6804A0"/>
<path d="M1710.9 135.2L1718.5 120.4H1703.3Z" fill="#6804A0"/>
<path d="M1793.5 141.5L1801.1 126.6H1785.9Z" fill="#6804A0"/>
<path d="M1856 138.3L1863.6 123.5H1848.4Z" fill="#6804A0"/>
<path d="M1938.6 147.7L1946.2 132.9H1931Z" fill="#6804A0"/>
<path d="M2001.1 135.2L2008.7 120.4H1993.5Z" fill="#6804A0"/>
<path d="M2037.7 141.5L2045.3 126.6H2030.1Z" fill="#6804A0"/>
<path d="M2063.6 147.7L2071.2 132.9H2056Z" fill="#6804A0"/>
<path d="M1233.2 128.8V151.4M1225.7 128.8h15M1225.7 151.4h15M1793.5 127V159.6M1786 127h15M1786 159.6h15M1856 124.5V149.6M1848.5 124.5h15M1848.5 149.6h15M2001.1 123.2V148.3M1993.6 123.2h15M1993.6 148.3h15M2037.7 130.1V155.2M2030.2 130.1h15M2030.2 155.2h15" fill="none" stroke="#FF0000" stroke-width="2.8"/>
<path d="M1233.2 132.5L1240.8 147.4H1225.6Z" fill="#FF0000"/>
<path d="M1440.8 118.7L1448.4 133.6H1433.2Z" fill="#FF0000"/>
<path d="M1585.9 130.7L1593.5 145.5H1578.3Z" fill="#FF0000"/>
<path d="M1648.4 138.2L1656 153H1640.8Z" fill="#FF0000"/>
<path d="M1710.9 127.5L1718.5 142.3H1703.3Z" fill="#FF0000"/>
<path d="M1793.5 135.7L1801.1 150.5H1785.9Z" fill="#FF0000"/>
<path d="M1856 129.4L1863.6 144.2H1848.4Z" fill="#FF0000"/>
<path d="M1938.6 128.1L1946.2 143H1931Z" fill="#FF0000"/>
<path d="M2001.1 128.1L2008.7 143H1993.5Z" fill="#FF0000"/>
<path d="M2037.7 135L2045.3 149.9H2030.1Z" fill="#FF0000"/>
<path d="M2063.6 142.6L2071.2 157.4H2056Z" fill="#FF0000"/>
<path d="M1233.2 89.6V114.1M1225.7 89.6h15M1225.7 114.1h15M1440.8 78V115.7M1433.3 78h15M1433.3 115.7h15M1585.9 98.7V115M1578.4 98.7h15M1578.4 115h15M1648.4 102.5V127.6M1640.9 102.5h15M1640.9 127.6h15M1710.9 103.1V139.5M1703.4 103.1h15M1703.4 139.5h15M1793.5 121.3V150.2M1786 121.3h15M1786 150.2h15M2001.1 102.5V127.6M1993.6 102.5h15M1993.6 127.6h15M2037.7 121.3V140.1M2030.2 121.3h15M2030.2 140.1h15M2063.6 121.9V140.8M2056.1 121.9h15M2056.1 140.8h15" fill="none" stroke="#BDBA00" stroke-width="2.8"/>
<rect x="1225.7" y="94.4" width="15" height="15" fill="#BDBA00"/>
<rect x="1433.3" y="89.3" width="15" height="15" fill="#BDBA00"/>
<rect x="1578.4" y="99.4" width="15" height="15" fill="#BDBA00"/>
<rect x="1640.9" y="107.5" width="15" height="15" fill="#BDBA00"/>
<rect x="1703.4" y="113.8" width="15" height="15" fill="#BDBA00"/>
<rect x="1786" y="128.2" width="15" height="15" fill="#BDBA00"/>
<rect x="1848.5" y="126.4" width="15" height="15" fill="#BDBA00"/>
<rect x="1931.1" y="123.5" width="15" height="15" fill="#BDBA00"/>
<rect x="1993.6" y="107.5" width="15" height="15" fill="#BDBA00"/>
<rect x="2030.2" y="123.2" width="15" height="15" fill="#BDBA00"/>
<rect x="2056.1" y="123.9" width="15" height="15" fill="#BDBA00"/>
<path d="M1233.2 106.9V125.7M1225.7 106.9h15M1225.7 125.7h15M1440.8 87V113M1433.3 87h15M1433.3 113h15M1585.9 103.7V143.9M1578.4 103.7h15M1578.4 143.9h15M1648.4 105.6V120.7M1640.9 105.6h15M1640.9 120.7h15M1710.9 105.6V138.3M1703.4 105.6h15M1703.4 138.3h15M1938.6 95.6V121.9M1931.1 95.6h15M1931.1 121.9h15M2001.1 106.3V121.3M1993.6 106.3h15M1993.6 121.3h15M2037.7 106.9V132M2030.2 106.9h15M2030.2 132h15M2063.6 106.6V124.1M2056.1 106.6h15M2056.1 124.1h15" fill="none" stroke="#000000" stroke-width="2.8"/>
<circle cx="1233.2" cy="116.3" r="7.5" fill="#000000"/>
<circle cx="1440.8" cy="100" r="7.5" fill="#000000"/>
<circle cx="1585.9" cy="123.8" r="7.5" fill="#000000"/>
<circle cx="1648.4" cy="113.2" r="7.5" fill="#000000"/>
<circle cx="1710.9" cy="121.9" r="7.5" fill="#000000"/>
<circle cx="1793.5" cy="121.3" r="7.5" fill="#000000"/>
<circle cx="1856" cy="119.1" r="7.5" fill="#000000"/>
<circle cx="1938.6" cy="108.8" r="7.5" fill="#000000"/>
<circle cx="2001.1" cy="113.8" r="7.5" fill="#000000"/>
<circle cx="2037.7" cy="119.4" r="7.5" fill="#000000"/>
<circle cx="2063.6" cy="115.4" r="7.5" fill="#000000"/>
<text transform="translate(1122.6 38)" font-size="44.0" font-weight="bold" text-anchor="start">B</text>
<text transform="translate(1649 37.1) scale(1 1.065)" font-size="40.1" font-weight="bold" text-anchor="middle">PepNeg</text>
<text transform="translate(1219.4 736.85) scale(1 1.12)" font-size="27.8" font-weight="bold" text-anchor="end">0</text>
<text transform="translate(1219.4 611.35) scale(1 1.12)" font-size="27.8" font-weight="bold" text-anchor="end">20</text>
<text transform="translate(1219.4 485.85) scale(1 1.12)" font-size="27.8" font-weight="bold" text-anchor="end">40</text>
<text transform="translate(1219.4 360.35) scale(1 1.12)" font-size="27.8" font-weight="bold" text-anchor="end">60</text>
<text transform="translate(1219.4 234.85) scale(1 1.12)" font-size="27.8" font-weight="bold" text-anchor="end">80</text>
<text transform="translate(1219.4 109.35) scale(1 1.12)" font-size="27.8" font-weight="bold" text-anchor="end">100</text>
<text transform="translate(1231.1 800.4) scale(1 1.12)" font-size="27.8" font-weight="bold" text-anchor="middle">0.01</text>
<text transform="translate(1439.1 800.4) scale(1 1.12)" font-size="27.8" font-weight="bold" text-anchor="middle">0.1</text>
<text transform="translate(1647 800.4) scale(1 1.12)" font-size="27.8" font-weight="bold" text-anchor="middle">1</text>
<text transform="translate(1855.55 800.4) scale(1 1.12)" font-size="27.8" font-weight="bold" text-anchor="middle">10</text>
<text transform="translate(2063 800.4) scale(1 1.12)" font-size="27.8" font-weight="bold" text-anchor="middle">100</text>
<text transform="translate(1160.55 396.05) rotate(-90) scale(1 1.07)" font-size="30.45" font-weight="bold" text-anchor="middle">HBEC-5i Cell Viability (%)</text>
<text transform="translate(1648.3 845.2) scale(1 1.07)" font-size="30.8" font-weight="bold" text-anchor="middle">Concentration (<tspan font-family="'Liberation Serif','DejaVu Serif',serif" font-weight="bold" font-size="30">µ</tspan>M)</text>
</g>
<g id="panel-C">
<path d="M100.5 1055V1777.8H932.9" fill="none" stroke="#000" stroke-width="3.9" stroke-linejoin="miter"/>
<path d="M100.5 1746.6h-10.6M100.5 1621.1h-10.6M100.5 1495.6h-10.6M100.5 1370.1h-10.6M100.5 1244.6h-10.6M100.5 1119.1h-10.6M100.5 1777.8v10.4M163 1777.8v6.4M199.6 1777.8v6.4M225.5 1777.8v6.4M245.7 1777.8v6.4M262.1 1777.8v6.4M276 1777.8v6.4M288 1777.8v6.4M298.7 1777.8v6.4M308.1 1777.8v10.4M370.6 1777.8v6.4M407.2 1777.8v6.4M433.1 1777.8v6.4M453.3 1777.8v6.4M469.7 1777.8v6.4M483.6 1777.8v6.4M495.6 1777.8v6.4M506.3 1777.8v6.4M515.8 1777.8v10.4M578.2 1777.8v6.4M614.8 1777.8v6.4M640.7 1777.8v6.4M660.9 1777.8v6.4M677.3 1777.8v6.4M691.2 1777.8v6.4M703.2 1777.8v6.4M713.9 1777.8v6.4M723.3 1777.8v10.4M785.8 1777.8v6.4M822.4 1777.8v6.4M848.3 1777.8v6.4M868.5 1777.8v6.4M884.9 1777.8v6.4M898.8 1777.8v6.4M910.8 1777.8v6.4M921.5 1777.8v6.4M930.9 1777.8v10.4" fill="none" stroke="#000" stroke-width="3.9"/>
<line x1="111.8" y1="1746.6" x2="930.9" y2="1746.6" stroke="#000" stroke-width="4" stroke-linecap="round" stroke-dasharray="0.01 11.06"/>
<polyline points="100.5,1082.4 105.7,1082.4 110.9,1082.4 116.1,1082.4 121.3,1082.4 126.5,1082.4 131.7,1082.5 136.9,1082.5 142.1,1082.5 147.3,1082.5 152.4,1082.5 157.6,1082.5 162.8,1082.5 168,1082.5 173.2,1082.5 178.4,1082.5 183.6,1082.5 188.8,1082.6 194,1082.6 199.2,1082.6 204.3,1082.6 209.5,1082.6 214.7,1082.7 219.9,1082.7 225.1,1082.7 230.3,1082.7 235.5,1082.8 240.7,1082.8 245.9,1082.9 251.1,1082.9 256.2,1083 261.4,1083 266.6,1083.1 271.8,1083.1 277,1083.2 282.2,1083.3 287.4,1083.4 292.6,1083.5 297.8,1083.6 303,1083.7 308.1,1083.8 313.3,1083.9 318.5,1084.1 323.7,1084.2 328.9,1084.4 334.1,1084.6 339.3,1084.8 344.5,1085 349.7,1085.3 354.9,1085.5 360.1,1085.8 365.2,1086.2 370.4,1086.5 375.6,1086.9 380.8,1087.3 386,1087.8 391.2,1088.3 396.4,1088.9 401.6,1089.5 406.8,1090.2 411.9,1090.9 417.1,1091.7 422.3,1092.6 427.5,1093.5 432.7,1094.6 437.9,1095.7 443.1,1096.9 448.3,1098.3 453.5,1099.8 458.7,1101.4 463.9,1103.1 469,1105 474.2,1107.1 479.4,1109.4 484.6,1111.8 489.8,1114.5 495,1117.4 500.2,1120.5 505.4,1124 510.6,1127.7 515.8,1131.6 520.9,1136 526.1,1140.6 531.3,1145.6 536.5,1151.1 541.7,1156.9 546.9,1163.1 552.1,1169.8 557.3,1177 562.5,1184.6 567.6,1192.7 572.8,1201.4 578,1210.6 583.2,1220.3 588.4,1230.5 593.6,1241.3 598.8,1252.6 604,1264.4 609.2,1276.7 614.4,1289.5 619.5,1302.8 624.7,1316.4 629.9,1330.5 635.1,1344.9 640.3,1359.6 645.5,1374.5 650.7,1389.6 655.9,1404.8 661.1,1420.1 666.3,1435.4 671.4,1450.5 676.6,1465.6 681.8,1480.5 687,1495.1 692.2,1509.4 697.4,1523.4 702.6,1536.9 707.8,1550.1 713,1562.8 718.2,1575 723.3,1586.6 728.5,1597.8 733.7,1608.4 738.9,1618.5 744.1,1628.1 749.3,1637.1 754.5,1645.7 759.7,1653.7 764.9,1661.2 770.1,1668.2 775.2,1674.8 780.4,1680.9 785.6,1686.6 790.8,1691.9 796,1696.9 801.2,1701.4 806.4,1705.7 811.6,1709.6 816.8,1713.2 822,1716.6 827.1,1719.6 832.3,1722.5 837.5,1725.1 842.7,1727.5 847.9,1729.7 853.1,1731.7 858.3,1733.6 863.5,1735.3 868.7,1736.9 873.9,1738.3 879,1739.7 884.2,1740.9 889.4,1742 894.6,1743 899.8,1743.9 905,1744.8 910.2,1745.6 915.4,1746.3 920.6,1746.9 925.8,1747.5 930.9,1748.1" fill="none" stroke="#F4107A" stroke-width="3.3" stroke-linejoin="round"/>
<polyline points="100.5,1104.4 105.7,1104.5 110.9,1104.5 116.1,1104.5 121.3,1104.5 126.5,1104.5 131.7,1104.5 136.9,1104.5 142.1,1104.5 147.3,1104.5 152.4,1104.6 157.6,1104.6 162.8,1104.6 168,1104.6 173.2,1104.6 178.4,1104.7 183.6,1104.7 188.8,1104.7 194,1104.8 199.2,1104.8 204.3,1104.8 209.5,1104.9 214.7,1104.9 219.9,1105 225.1,1105 230.3,1105.1 235.5,1105.2 240.7,1105.2 245.9,1105.3 251.1,1105.4 256.2,1105.5 261.4,1105.6 266.6,1105.7 271.8,1105.8 277,1105.9 282.2,1106.1 287.4,1106.2 292.6,1106.4 297.8,1106.5 303,1106.7 308.1,1106.9 313.3,1107.2 318.5,1107.4 323.7,1107.7 328.9,1108 334.1,1108.3 339.3,1108.6 344.5,1109 349.7,1109.4 354.9,1109.9 360.1,1110.3 365.2,1110.9 370.4,1111.4 375.6,1112 380.8,1112.7 386,1113.4 391.2,1114.2 396.4,1115.1 401.6,1116 406.8,1117 411.9,1118.1 417.1,1119.3 422.3,1120.5 427.5,1121.9 432.7,1123.4 437.9,1125 443.1,1126.8 448.3,1128.7 453.5,1130.7 458.7,1133 463.9,1135.4 469,1137.9 474.2,1140.7 479.4,1143.7 484.6,1147 489.8,1150.5 495,1154.2 500.2,1158.2 505.4,1162.5 510.6,1167.2 515.8,1172.1 520.9,1177.4 526.1,1183 531.3,1189.1 536.5,1195.5 541.7,1202.3 546.9,1209.5 552.1,1217.2 557.3,1225.3 562.5,1233.8 567.6,1242.8 572.8,1252.2 578,1262.1 583.2,1272.4 588.4,1283.1 593.6,1294.3 598.8,1305.9 604,1317.8 609.2,1330.1 614.4,1342.8 619.5,1355.7 624.7,1368.9 629.9,1382.3 635.1,1395.9 640.3,1409.6 645.5,1423.4 650.7,1437.2 655.9,1451 661.1,1464.7 666.3,1478.3 671.4,1491.8 676.6,1505.1 681.8,1518.1 687,1530.8 692.2,1543.3 697.4,1555.3 702.6,1567 707.8,1578.3 713,1589.2 718.2,1599.7 723.3,1609.7 728.5,1619.2 733.7,1628.4 738.9,1637 744.1,1645.3 749.3,1653.1 754.5,1660.4 759.7,1667.4 764.9,1673.9 770.1,1680.1 775.2,1685.9 780.4,1691.3 785.6,1696.3 790.8,1701.1 796,1705.5 801.2,1709.6 806.4,1713.4 811.6,1717 816.8,1720.3 822,1723.4 827.1,1726.2 832.3,1728.9 837.5,1731.3 842.7,1733.6 847.9,1735.7 853.1,1737.7 858.3,1739.5 863.5,1741.1 868.7,1742.7 873.9,1744.1 879,1745.4 884.2,1746.6 889.4,1747.7 894.6,1748.8 899.8,1749.7 905,1750.6 910.2,1751.4 915.4,1752.1 920.6,1752.8 925.8,1753.5 930.9,1754" fill="none" stroke="#6804A0" stroke-width="3.3" stroke-linejoin="round"/>
<polyline points="100.5,1093.5 105.7,1093.5 110.9,1093.5 116.1,1093.5 121.3,1093.6 126.5,1093.6 131.7,1093.6 136.9,1093.6 142.1,1093.6 147.3,1093.7 152.4,1093.7 157.6,1093.7 162.8,1093.7 168,1093.8 173.2,1093.8 178.4,1093.8 183.6,1093.9 188.8,1093.9 194,1093.9 199.2,1094 204.3,1094 209.5,1094.1 214.7,1094.1 219.9,1094.2 225.1,1094.3 230.3,1094.4 235.5,1094.4 240.7,1094.5 245.9,1094.6 251.1,1094.7 256.2,1094.8 261.4,1094.9 266.6,1095.1 271.8,1095.2 277,1095.4 282.2,1095.5 287.4,1095.7 292.6,1095.9 297.8,1096.1 303,1096.3 308.1,1096.5 313.3,1096.8 318.5,1097.1 323.7,1097.4 328.9,1097.7 334.1,1098 339.3,1098.4 344.5,1098.8 349.7,1099.3 354.9,1099.8 360.1,1100.3 365.2,1100.8 370.4,1101.4 375.6,1102.1 380.8,1102.8 386,1103.5 391.2,1104.3 396.4,1105.2 401.6,1106.2 406.8,1107.2 411.9,1108.3 417.1,1109.5 422.3,1110.8 427.5,1112.2 432.7,1113.6 437.9,1115.2 443.1,1117 448.3,1118.8 453.5,1120.8 458.7,1122.9 463.9,1125.2 469,1127.7 474.2,1130.4 479.4,1133.2 484.6,1136.3 489.8,1139.5 495,1143 500.2,1146.7 505.4,1150.7 510.6,1155 515.8,1159.5 520.9,1164.4 526.1,1169.5 531.3,1175 536.5,1180.8 541.7,1186.9 546.9,1193.4 552.1,1200.3 557.3,1207.6 562.5,1215.2 567.6,1223.2 572.8,1231.7 578,1240.5 583.2,1249.8 588.4,1259.4 593.6,1269.4 598.8,1279.9 604,1290.6 609.2,1301.8 614.4,1313.3 619.5,1325.1 624.7,1337.2 629.9,1349.6 635.1,1362.2 640.3,1375.1 645.5,1388.1 650.7,1401.2 655.9,1414.5 661.1,1427.7 666.3,1441.1 671.4,1454.3 676.6,1467.5 681.8,1480.7 687,1493.6 692.2,1506.4 697.4,1519 702.6,1531.3 707.8,1543.3 713,1555.1 718.2,1566.5 723.3,1577.5 728.5,1588.2 733.7,1598.5 738.9,1608.5 744.1,1618 749.3,1627.1 754.5,1635.9 759.7,1644.2 764.9,1652.1 770.1,1659.7 775.2,1666.8 780.4,1673.6 785.6,1680 790.8,1686.1 796,1691.8 801.2,1697.2 806.4,1702.2 811.6,1707 816.8,1711.5 822,1715.6 827.1,1719.6 832.3,1723.2 837.5,1726.7 842.7,1729.9 847.9,1732.9 853.1,1735.7 858.3,1738.3 863.5,1740.7 868.7,1742.9 873.9,1745 879,1747 884.2,1748.8 889.4,1750.5 894.6,1752.1 899.8,1753.5 905,1754.9 910.2,1756.1 915.4,1757.3 920.6,1758.4 925.8,1759.4 930.9,1760.3" fill="none" stroke="#FF0000" stroke-width="3.3" stroke-linejoin="round"/>
<polyline points="100.5,1115.1 105.7,1115.1 110.9,1115.1 116.1,1115.1 121.3,1115.1 126.5,1115.1 131.7,1115.1 136.9,1115.2 142.1,1115.2 147.3,1115.2 152.4,1115.2 157.6,1115.2 162.8,1115.2 168,1115.2 173.2,1115.3 178.4,1115.3 183.6,1115.3 188.8,1115.3 194,1115.4 199.2,1115.4 204.3,1115.4 209.5,1115.5 214.7,1115.5 219.9,1115.5 225.1,1115.6 230.3,1115.6 235.5,1115.7 240.7,1115.8 245.9,1115.8 251.1,1115.9 256.2,1116 261.4,1116 266.6,1116.1 271.8,1116.2 277,1116.3 282.2,1116.5 287.4,1116.6 292.6,1116.7 297.8,1116.9 303,1117 308.1,1117.2 313.3,1117.4 318.5,1117.6 323.7,1117.8 328.9,1118.1 334.1,1118.3 339.3,1118.6 344.5,1118.9 349.7,1119.3 354.9,1119.7 360.1,1120.1 365.2,1120.5 370.4,1121 375.6,1121.5 380.8,1122.1 386,1122.7 391.2,1123.3 396.4,1124 401.6,1124.8 406.8,1125.7 411.9,1126.6 417.1,1127.6 422.3,1128.6 427.5,1129.8 432.7,1131.1 437.9,1132.4 443.1,1133.9 448.3,1135.5 453.5,1137.3 458.7,1139.1 463.9,1141.2 469,1143.4 474.2,1145.7 479.4,1148.3 484.6,1151 489.8,1154 495,1157.2 500.2,1160.6 505.4,1164.3 510.6,1168.3 515.8,1172.5 520.9,1177.1 526.1,1181.9 531.3,1187.1 536.5,1192.7 541.7,1198.6 546.9,1204.9 552.1,1211.6 557.3,1218.8 562.5,1226.3 567.6,1234.2 572.8,1242.6 578,1251.5 583.2,1260.7 588.4,1270.4 593.6,1280.6 598.8,1291.1 604,1302.1 609.2,1313.5 614.4,1325.2 619.5,1337.3 624.7,1349.7 629.9,1362.4 635.1,1375.4 640.3,1388.6 645.5,1401.9 650.7,1415.4 655.9,1429 661.1,1442.6 666.3,1456.2 671.4,1469.7 676.6,1483.1 681.8,1496.4 687,1509.5 692.2,1522.3 697.4,1534.9 702.6,1547.1 707.8,1559 713,1570.6 718.2,1581.7 723.3,1592.5 728.5,1602.8 733.7,1612.8 738.9,1622.2 744.1,1631.3 749.3,1639.9 754.5,1648 759.7,1655.7 764.9,1663.1 770.1,1670 775.2,1676.4 780.4,1682.6 785.6,1688.3 790.8,1693.7 796,1698.7 801.2,1703.4 806.4,1707.8 811.6,1711.9 816.8,1715.7 822,1719.3 827.1,1722.6 832.3,1725.6 837.5,1728.5 842.7,1731.1 847.9,1733.6 853.1,1735.9 858.3,1738 863.5,1739.9 868.7,1741.7 873.9,1743.4 879,1744.9 884.2,1746.3 889.4,1747.6 894.6,1748.9 899.8,1750 905,1751 910.2,1752 915.4,1752.8 920.6,1753.6 925.8,1754.4 930.9,1755.1" fill="none" stroke="#BDBA00" stroke-width="3.3" stroke-linejoin="round"/>
<polyline points="100.5,1113.9 105.7,1113.9 110.9,1113.9 116.1,1113.9 121.3,1113.9 126.5,1113.9 131.7,1113.9 136.9,1113.9 142.1,1113.9 147.3,1114 152.4,1114 157.6,1114 162.8,1114 168,1114 173.2,1114.1 178.4,1114.1 183.6,1114.1 188.8,1114.1 194,1114.2 199.2,1114.2 204.3,1114.2 209.5,1114.3 214.7,1114.3 219.9,1114.4 225.1,1114.4 230.3,1114.5 235.5,1114.5 240.7,1114.6 245.9,1114.7 251.1,1114.8 256.2,1114.8 261.4,1114.9 266.6,1115 271.8,1115.1 277,1115.3 282.2,1115.4 287.4,1115.5 292.6,1115.7 297.8,1115.8 303,1116 308.1,1116.2 313.3,1116.4 318.5,1116.6 323.7,1116.9 328.9,1117.1 334.1,1117.4 339.3,1117.7 344.5,1118 349.7,1118.4 354.9,1118.8 360.1,1119.2 365.2,1119.7 370.4,1120.1 375.6,1120.7 380.8,1121.3 386,1121.9 391.2,1122.6 396.4,1123.3 401.6,1124.1 406.8,1124.9 411.9,1125.9 417.1,1126.9 422.3,1127.9 427.5,1129.1 432.7,1130.4 437.9,1131.7 443.1,1133.2 448.3,1134.8 453.5,1136.5 458.7,1138.4 463.9,1140.4 469,1142.5 474.2,1144.8 479.4,1147.3 484.6,1150 489.8,1152.9 495,1156 500.2,1159.3 505.4,1162.8 510.6,1166.6 515.8,1170.7 520.9,1175.1 526.1,1179.7 531.3,1184.7 536.5,1190 541.7,1195.6 546.9,1201.6 552.1,1208 557.3,1214.7 562.5,1221.8 567.6,1229.3 572.8,1237.2 578,1245.5 583.2,1254.3 588.4,1263.4 593.6,1273 598.8,1282.9 604,1293.3 609.2,1304 614.4,1315.2 619.5,1326.6 624.7,1338.4 629.9,1350.5 635.1,1362.9 640.3,1375.5 645.5,1388.3 650.7,1401.2 655.9,1414.3 661.1,1427.5 666.3,1440.7 671.4,1453.9 676.6,1467.1 681.8,1480.2 687,1493.1 692.2,1505.9 697.4,1518.4 702.6,1530.8 707.8,1542.8 713,1554.6 718.2,1566 723.3,1577 728.5,1587.7 733.7,1598 738.9,1607.9 744.1,1617.4 749.3,1626.5 754.5,1635.2 759.7,1643.5 764.9,1651.3 770.1,1658.8 775.2,1665.8 780.4,1672.5 785.6,1678.8 790.8,1684.7 796,1690.3 801.2,1695.6 806.4,1700.5 811.6,1705.1 816.8,1709.4 822,1713.5 827.1,1717.2 832.3,1720.8 837.5,1724 842.7,1727.1 847.9,1729.9 853.1,1732.6 858.3,1735.1 863.5,1737.3 868.7,1739.5 873.9,1741.4 879,1743.3 884.2,1745 889.4,1746.5 894.6,1748 899.8,1749.4 905,1750.6 910.2,1751.8 915.4,1752.8 920.6,1753.8 925.8,1754.7 930.9,1755.6" fill="none" stroke="#000000" stroke-width="3.3" stroke-linejoin="round"/>
<path d="M100.5 1062.6V1125.4M93 1062.6h15M93 1125.4h15M308.1 1071.4V1122.9M300.6 1071.4h15M300.6 1122.9h15M453.3 1083.3V1108.4M445.8 1083.3h15M445.8 1108.4h15M515.8 1104V1140.4M508.2 1104h15M508.2 1140.4h15M578.2 1197.5V1227.7M570.7 1197.5h15M570.7 1227.7h15M660.9 1423.4V1442.3M653.4 1423.4h15M653.4 1442.3h15M723.3 1580.3V1599.1M715.8 1580.3h15M715.8 1599.1h15" fill="none" stroke="#F4107A" stroke-width="2.8"/>
<path d="M100.5 1086.3L107.1 1094L100.5 1101.7L94 1094Z" fill="#F4107A"/>
<path d="M308.1 1089.4L314.8 1097.1L308.1 1104.8L301.5 1097.1Z" fill="#F4107A"/>
<path d="M453.3 1088.2L459.9 1095.9L453.3 1103.6L446.7 1095.9Z" fill="#F4107A"/>
<path d="M515.8 1114.5L522.4 1122.2L515.8 1129.9L509.1 1122.2Z" fill="#F4107A"/>
<path d="M578.2 1204.9L584.8 1212.6L578.2 1220.3L571.6 1212.6Z" fill="#F4107A"/>
<path d="M660.9 1425.1L667.5 1432.8L660.9 1440.5L654.3 1432.8Z" fill="#F4107A"/>
<path d="M723.3 1582L729.9 1589.7L723.3 1597.4L716.7 1589.7Z" fill="#F4107A"/>
<path d="M806 1715.3L812.6 1723L806 1730.7L799.4 1723Z" fill="#F4107A"/>
<path d="M868.5 1733.9L875.1 1741.6L868.5 1749.3L861.9 1741.6Z" fill="#F4107A"/>
<path d="M905 1735.8L911.6 1743.5L905 1751.2L898.4 1743.5Z" fill="#F4107A"/>
<path d="M930.9 1737L937.5 1744.7L930.9 1752.4L924.3 1744.7Z" fill="#F4107A"/>
<path d="M100.5 1067.2V1107M93 1067.2h15M93 1107h15M308.1 1089V1136.7M300.6 1089h15M300.6 1136.7h15M453.3 1119.1V1144.2M445.8 1119.1h15M445.8 1144.2h15M515.8 1152V1188.4M508.2 1152h15M508.2 1188.4h15M578.2 1263.4V1288.5M570.7 1263.4h15M570.7 1288.5h15M660.9 1442.3V1476.1M653.4 1442.3h15M653.4 1476.1h15" fill="none" stroke="#6804A0" stroke-width="2.8"/>
<path d="M100.5 1094.7L108.1 1079.9H93Z" fill="#6804A0"/>
<path d="M308.1 1120.4L315.8 1105.6H300.5Z" fill="#6804A0"/>
<path d="M453.3 1139.2L460.9 1124.4H445.7Z" fill="#6804A0"/>
<path d="M515.8 1177.8L523.4 1163H508.1Z" fill="#6804A0"/>
<path d="M578.2 1283.6L585.8 1268.8H570.6Z" fill="#6804A0"/>
<path d="M660.9 1466.8L668.5 1452H653.3Z" fill="#6804A0"/>
<path d="M723.3 1625.6L730.9 1610.7H715.7Z" fill="#6804A0"/>
<path d="M806 1747.9L813.6 1733.1H798.4Z" fill="#6804A0"/>
<path d="M868.5 1751.7L876.1 1736.9H860.9Z" fill="#6804A0"/>
<path d="M905 1752.3L912.6 1737.5H897.4Z" fill="#6804A0"/>
<path d="M930.9 1752.9L938.5 1738.1H923.3Z" fill="#6804A0"/>
<path d="M100.5 1062.6V1125.4M93 1062.6h15M93 1125.4h15M308.1 1075.2V1125.4M300.6 1075.2h15M300.6 1125.4h15M453.3 1107.8V1136.7M445.8 1107.8h15M445.8 1136.7h15M515.8 1112.2V1163.7M508.2 1112.2h15M508.2 1163.7h15M578.2 1264.7V1286M570.7 1264.7h15M570.7 1286h15M660.9 1403.4V1443.5M653.4 1403.4h15M653.4 1443.5h15" fill="none" stroke="#FF0000" stroke-width="2.8"/>
<path d="M100.5 1086.4L108.1 1101.2H93Z" fill="#FF0000"/>
<path d="M308.1 1092.7L315.8 1107.5H300.5Z" fill="#FF0000"/>
<path d="M453.3 1114.6L460.9 1129.5H445.7Z" fill="#FF0000"/>
<path d="M515.8 1130.3L523.4 1145.1H508.1Z" fill="#FF0000"/>
<path d="M578.2 1267.7L585.8 1282.6H570.6Z" fill="#FF0000"/>
<path d="M660.9 1415.8L668.5 1430.7H653.3Z" fill="#FF0000"/>
<path d="M723.3 1568.6L730.9 1583.5H715.7Z" fill="#FF0000"/>
<path d="M806 1732.7L813.6 1747.5H798.4Z" fill="#FF0000"/>
<path d="M868.5 1737.1L876.1 1751.9H860.9Z" fill="#FF0000"/>
<path d="M905 1737.7L912.6 1752.6H897.4Z" fill="#FF0000"/>
<path d="M930.9 1738.4L938.5 1753.2H923.3Z" fill="#FF0000"/>
<path d="M100.5 1092.1V1146.1M93 1092.1h15M93 1146.1h15M308.1 1085.8V1152.4M300.6 1085.8h15M300.6 1152.4h15M453.3 1094V1160.5M445.8 1094h15M445.8 1160.5h15M515.8 1117.8V1155.5M508.2 1117.8h15M508.2 1155.5h15M578.2 1265.3V1292.9M570.7 1265.3h15M570.7 1292.9h15M660.9 1425.9V1444.8M653.4 1425.9h15M653.4 1444.8h15M723.3 1586V1603.5M715.8 1586h15M715.8 1603.5h15" fill="none" stroke="#BDBA00" stroke-width="2.8"/>
<rect x="93" y="1111.6" width="15" height="15" fill="#BDBA00"/>
<rect x="300.6" y="1111.6" width="15" height="15" fill="#BDBA00"/>
<rect x="445.8" y="1119.8" width="15" height="15" fill="#BDBA00"/>
<rect x="508.2" y="1129.2" width="15" height="15" fill="#BDBA00"/>
<rect x="570.7" y="1271.6" width="15" height="15" fill="#BDBA00"/>
<rect x="653.4" y="1427.9" width="15" height="15" fill="#BDBA00"/>
<rect x="715.8" y="1587.2" width="15" height="15" fill="#BDBA00"/>
<rect x="798.5" y="1735" width="15" height="15" fill="#BDBA00"/>
<rect x="861" y="1736.6" width="15" height="15" fill="#BDBA00"/>
<rect x="897.5" y="1737.2" width="15" height="15" fill="#BDBA00"/>
<rect x="923.4" y="1737.2" width="15" height="15" fill="#BDBA00"/>
<path d="M100.5 1084.6V1153.6M93 1084.6h15M93 1153.6h15M308.1 1100.3V1144.2M300.6 1100.3h15M300.6 1144.2h15M453.3 1107.2V1144.8M445.8 1107.2h15M445.8 1144.8h15M515.8 1126.6V1163M508.2 1126.6h15M508.2 1163h15M578.2 1255.3V1300.4M570.7 1255.3h15M570.7 1300.4h15M723.3 1551.1V1573.7M715.8 1551.1h15M715.8 1573.7h15" fill="none" stroke="#000000" stroke-width="2.8"/>
<circle cx="100.5" cy="1119.1" r="7.5" fill="#000000"/>
<circle cx="308.1" cy="1122.2" r="7.5" fill="#000000"/>
<circle cx="453.3" cy="1126" r="7.5" fill="#000000"/>
<circle cx="515.8" cy="1144.8" r="7.5" fill="#000000"/>
<circle cx="578.2" cy="1277.9" r="7.5" fill="#000000"/>
<circle cx="660.9" cy="1420.9" r="7.5" fill="#000000"/>
<circle cx="723.3" cy="1562.4" r="7.5" fill="#000000"/>
<circle cx="806" cy="1737.5" r="7.5" fill="#000000"/>
<circle cx="868.5" cy="1743.5" r="7.5" fill="#000000"/>
<circle cx="905" cy="1742.8" r="7.5" fill="#000000"/>
<circle cx="930.9" cy="1744.7" r="7.5" fill="#000000"/>
<text transform="translate(9.6 1047.2)" font-size="44.0" font-weight="bold" text-anchor="start">C</text>
<text transform="translate(516.35 1057.1) scale(1 1.065)" font-size="40.1" font-weight="bold" text-anchor="middle">vCPP2319</text>
<text transform="translate(86.75 1756.6) scale(1 1.12)" font-size="27.8" font-weight="bold" text-anchor="end">0</text>
<text transform="translate(86.75 1631.1) scale(1 1.12)" font-size="27.8" font-weight="bold" text-anchor="end">20</text>
<text transform="translate(86.75 1505.6) scale(1 1.12)" font-size="27.8" font-weight="bold" text-anchor="end">40</text>
<text transform="translate(86.75 1380.1) scale(1 1.12)" font-size="27.8" font-weight="bold" text-anchor="end">60</text>
<text transform="translate(86.75 1254.6) scale(1 1.12)" font-size="27.8" font-weight="bold" text-anchor="end">80</text>
<text transform="translate(86.75 1129.1) scale(1 1.12)" font-size="27.8" font-weight="bold" text-anchor="end">100</text>
<text transform="translate(98.45 1820.4) scale(1 1.12)" font-size="27.8" font-weight="bold" text-anchor="middle">0.01</text>
<text transform="translate(306.45 1820.4) scale(1 1.12)" font-size="27.8" font-weight="bold" text-anchor="middle">0.1</text>
<text transform="translate(514.35 1820.4) scale(1 1.12)" font-size="27.8" font-weight="bold" text-anchor="middle">1</text>
<text transform="translate(722.9 1820.4) scale(1 1.12)" font-size="27.8" font-weight="bold" text-anchor="middle">10</text>
<text transform="translate(930.35 1820.4) scale(1 1.12)" font-size="27.8" font-weight="bold" text-anchor="middle">100</text>
<text transform="translate(27.9 1415.8) rotate(-90) scale(1 1.07)" font-size="30.45" font-weight="bold" text-anchor="middle">MDA-MB-231 Cell Viability (%)</text>
<text transform="translate(515.65 1865.2) scale(1 1.07)" font-size="30.8" font-weight="bold" text-anchor="middle">Concentration (<tspan font-family="'Liberation Serif','DejaVu Serif',serif" font-weight="bold" font-size="30">µ</tspan>M)</text>
</g>
<g id="panel-D">
<path d="M1233.2 1055.2V1778H2065.5" fill="none" stroke="#000" stroke-width="3.9" stroke-linejoin="miter"/>
<path d="M1233.2 1746.8h-10.6M1233.2 1621.3h-10.6M1233.2 1495.8h-10.6M1233.2 1370.3h-10.6M1233.2 1244.8h-10.6M1233.2 1119.3h-10.6M1233.2 1778v10.4M1295.7 1778v6.4M1332.3 1778v6.4M1358.2 1778v6.4M1378.3 1778v6.4M1394.7 1778v6.4M1408.6 1778v6.4M1420.7 1778v6.4M1431.3 1778v6.4M1440.8 1778v10.4M1503.3 1778v6.4M1539.9 1778v6.4M1565.8 1778v6.4M1585.9 1778v6.4M1602.3 1778v6.4M1616.2 1778v6.4M1628.3 1778v6.4M1638.9 1778v6.4M1648.4 1778v10.4M1710.9 1778v6.4M1747.5 1778v6.4M1773.4 1778v6.4M1793.5 1778v6.4M1809.9 1778v6.4M1823.8 1778v6.4M1835.9 1778v6.4M1846.5 1778v6.4M1856 1778v10.4M1918.5 1778v6.4M1955.1 1778v6.4M1981 1778v6.4M2001.1 1778v6.4M2017.5 1778v6.4M2031.4 1778v6.4M2043.5 1778v6.4M2054.1 1778v6.4M2063.6 1778v10.4" fill="none" stroke="#000" stroke-width="3.9"/>
<line x1="1244.4" y1="1746.8" x2="2063.6" y2="1746.8" stroke="#000" stroke-width="4" stroke-linecap="round" stroke-dasharray="0.01 11.06"/>
<polyline points="1233.2,1133.1 1238.4,1133.1 1243.6,1133.1 1248.8,1133.1 1254,1133.2 1259.2,1133.2 1264.3,1133.2 1269.5,1133.3 1274.7,1133.3 1279.9,1133.3 1285.1,1133.4 1290.3,1133.5 1295.5,1133.5 1300.7,1133.6 1305.9,1133.7 1311,1133.7 1316.2,1133.8 1321.4,1133.9 1326.6,1134 1331.8,1134.1 1337,1134.2 1342.2,1134.3 1347.4,1134.4 1352.6,1134.5 1357.8,1134.6 1363,1134.8 1368.1,1134.9 1373.3,1135 1378.5,1135.1 1383.7,1135.3 1388.9,1135.4 1394.1,1135.5 1399.3,1135.7 1404.5,1135.8 1409.7,1136 1414.9,1136.1 1420,1136.3 1425.2,1136.4 1430.4,1136.6 1435.6,1136.7 1440.8,1136.9 1446,1137 1451.2,1137.2 1456.4,1137.5 1461.6,1137.7 1466.8,1138 1471.9,1138.3 1477.1,1138.6 1482.3,1138.9 1487.5,1139.2 1492.7,1139.6 1497.9,1140 1503.1,1140.4 1508.3,1140.8 1513.5,1141.2 1518.7,1141.6 1523.8,1142 1529,1142.5 1534.2,1142.9 1539.4,1143.4 1544.6,1143.9 1549.8,1144.3 1555,1144.8 1560.2,1145.3 1565.4,1145.7 1570.5,1146.2 1575.7,1146.6 1580.9,1147.1 1586.1,1147.6 1591.3,1148 1596.5,1148.4 1601.7,1148.9 1606.9,1149.3 1612.1,1149.7 1617.3,1150.2 1622.5,1150.7 1627.6,1151.2 1632.8,1151.8 1638,1152.4 1643.2,1153.1 1648.4,1153.8 1653.6,1154.7 1658.8,1155.7 1664,1156.9 1669.2,1158.2 1674.3,1159.6 1679.5,1161.2 1684.7,1162.8 1689.9,1164.4 1695.1,1166.1 1700.3,1167.9 1705.5,1169.6 1710.7,1171.3 1715.9,1173 1721.1,1174.8 1726.2,1176.6 1731.4,1178.5 1736.6,1180.4 1741.8,1182.4 1747,1184.4 1752.2,1186.4 1757.4,1188.6 1762.6,1190.7 1767.8,1192.9 1773,1195.2 1778.2,1197.5 1783.3,1199.9 1788.5,1202.3 1793.7,1204.7 1798.9,1207.3 1804.1,1210 1809.3,1212.7 1814.5,1215.6 1819.7,1218.6 1824.9,1221.6 1830.1,1224.7 1835.2,1227.9 1840.4,1231.1 1845.6,1234.4 1850.8,1237.7 1856,1241 1861.2,1244.4 1866.4,1247.9 1871.6,1251.4 1876.8,1254.9 1882,1258.6 1887.1,1262.3 1892.3,1266 1897.5,1269.8 1902.7,1273.7 1907.9,1277.6 1913.1,1281.5 1918.3,1285.6 1923.5,1289.7 1928.7,1293.8 1933.8,1298 1939,1302.2 1944.2,1306.7 1949.4,1311.3 1954.6,1316.2 1959.8,1321.2 1965,1326.2 1970.2,1331.3 1975.4,1336.4 1980.6,1341.4 1985.8,1346.3 1990.9,1351.1 1996.1,1355.6 2001.3,1359.8 2006.5,1363.7 2011.7,1367.2 2016.9,1370.7 2022.1,1374 2027.3,1377.5 2032.5,1381.2 2037.7,1385.4 2042.8,1389.9 2048,1394.9 2053.2,1400.3 2058.4,1405.9 2063.6,1411.7" fill="none" stroke="#F4107A" stroke-width="3.3" stroke-linejoin="round"/>
<polyline points="1233.2,1108 1238.4,1108.2 1243.6,1108.3 1248.8,1108.5 1254,1108.7 1259.2,1108.9 1264.3,1109.1 1269.5,1109.3 1274.7,1109.5 1279.9,1109.8 1285.1,1110 1290.3,1110.3 1295.5,1110.6 1300.7,1110.8 1305.9,1111.1 1311,1111.4 1316.2,1111.7 1321.4,1112.1 1326.6,1112.4 1331.8,1112.7 1337,1113.1 1342.2,1113.4 1347.4,1113.8 1352.6,1114.1 1357.8,1114.5 1363,1114.9 1368.1,1115.3 1373.3,1115.7 1378.5,1116.1 1383.7,1116.5 1388.9,1116.9 1394.1,1117.3 1399.3,1117.7 1404.5,1118.1 1409.7,1118.6 1414.9,1119 1420,1119.4 1425.2,1119.9 1430.4,1120.3 1435.6,1120.7 1440.8,1121.2 1446,1121.6 1451.2,1122.1 1456.4,1122.6 1461.6,1123.1 1466.8,1123.6 1471.9,1124.1 1477.1,1124.6 1482.3,1125.2 1487.5,1125.7 1492.7,1126.3 1497.9,1126.9 1503.1,1127.5 1508.3,1128.1 1513.5,1128.8 1518.7,1129.4 1523.8,1130.1 1529,1130.8 1534.2,1131.5 1539.4,1132.2 1544.6,1132.9 1549.8,1133.7 1555,1134.5 1560.2,1135.2 1565.4,1136 1570.5,1136.9 1575.7,1137.7 1580.9,1138.5 1586.1,1139.4 1591.3,1140.3 1596.5,1141.3 1601.7,1142.4 1606.9,1143.5 1612.1,1144.7 1617.3,1146 1622.5,1147.2 1627.6,1148.5 1632.8,1149.8 1638,1151.2 1643.2,1152.5 1648.4,1153.8 1653.6,1155.1 1658.8,1156.5 1664,1157.8 1669.2,1159.2 1674.3,1160.6 1679.5,1162 1684.7,1163.5 1689.9,1165 1695.1,1166.5 1700.3,1168.1 1705.5,1169.7 1710.7,1171.3 1715.9,1173 1721.1,1174.8 1726.2,1176.6 1731.4,1178.4 1736.6,1180.3 1741.8,1182.3 1747,1184.2 1752.2,1186.3 1757.4,1188.3 1762.6,1190.4 1767.8,1192.5 1773,1194.7 1778.2,1196.8 1783.3,1199 1788.5,1201.2 1793.7,1203.5 1798.9,1205.7 1804.1,1208.1 1809.3,1210.4 1814.5,1212.9 1819.7,1215.3 1824.9,1217.8 1830.1,1220.4 1835.2,1222.9 1840.4,1225.5 1845.6,1228.2 1850.8,1230.8 1856,1233.5 1861.2,1236.2 1866.4,1238.8 1871.6,1241.5 1876.8,1244.2 1882,1246.9 1887.1,1249.6 1892.3,1252.3 1897.5,1255.1 1902.7,1258 1907.9,1260.9 1913.1,1263.9 1918.3,1266.9 1923.5,1270.1 1928.7,1273.4 1933.8,1276.7 1939,1280.2 1944.2,1283.9 1949.4,1287.7 1954.6,1291.7 1959.8,1295.9 1965,1300.2 1970.2,1304.7 1975.4,1309.3 1980.6,1313.9 1985.8,1318.7 1990.9,1323.6 1996.1,1328.5 2001.3,1333.5 2006.5,1338.6 2011.7,1343.9 2016.9,1349.4 2022.1,1355 2027.3,1360.8 2032.5,1366.7 2037.7,1372.8 2042.8,1379.1 2048,1385.5 2053.2,1392.2 2058.4,1399.1 2063.6,1406.1" fill="none" stroke="#6804A0" stroke-width="3.3" stroke-linejoin="round"/>
<polyline points="1233.2,1144.1 1238.4,1144.1 1243.6,1144.1 1248.8,1144.1 1254,1144.1 1259.2,1144.2 1264.3,1144.2 1269.5,1144.2 1274.7,1144.3 1279.9,1144.3 1285.1,1144.4 1290.3,1144.5 1295.5,1144.5 1300.7,1144.6 1305.9,1144.7 1311,1144.8 1316.2,1144.8 1321.4,1144.9 1326.6,1145 1331.8,1145.1 1337,1145.2 1342.2,1145.4 1347.4,1145.5 1352.6,1145.6 1357.8,1145.7 1363,1145.8 1368.1,1146 1373.3,1146.1 1378.5,1146.2 1383.7,1146.4 1388.9,1146.5 1394.1,1146.7 1399.3,1146.8 1404.5,1147 1409.7,1147.2 1414.9,1147.3 1420,1147.5 1425.2,1147.6 1430.4,1147.8 1435.6,1148 1440.8,1148.2 1446,1148.4 1451.2,1148.6 1456.4,1148.8 1461.6,1149.1 1466.8,1149.4 1471.9,1149.7 1477.1,1150.1 1482.3,1150.5 1487.5,1150.9 1492.7,1151.3 1497.9,1151.8 1503.1,1152.2 1508.3,1152.7 1513.5,1153.2 1518.7,1153.8 1523.8,1154.3 1529,1154.9 1534.2,1155.5 1539.4,1156.1 1544.6,1156.7 1549.8,1157.3 1555,1157.9 1560.2,1158.6 1565.4,1159.2 1570.5,1159.9 1575.7,1160.6 1580.9,1161.3 1586.1,1162 1591.3,1162.7 1596.5,1163.6 1601.7,1164.4 1606.9,1165.4 1612.1,1166.4 1617.3,1167.4 1622.5,1168.5 1627.6,1169.6 1632.8,1170.8 1638,1172 1643.2,1173.2 1648.4,1174.5 1653.6,1175.8 1658.8,1177.2 1664,1178.7 1669.2,1180.3 1674.3,1181.9 1679.5,1183.5 1684.7,1185.3 1689.9,1187 1695.1,1188.8 1700.3,1190.7 1705.5,1192.6 1710.7,1194.5 1715.9,1196.5 1721.1,1198.5 1726.2,1200.7 1731.4,1202.8 1736.6,1205.1 1741.8,1207.4 1747,1209.7 1752.2,1212.1 1757.4,1214.5 1762.6,1217 1767.8,1219.5 1773,1222 1778.2,1224.6 1783.3,1227.2 1788.5,1229.8 1793.7,1232.4 1798.9,1235 1804.1,1237.7 1809.3,1240.5 1814.5,1243.3 1819.7,1246.1 1824.9,1249 1830.1,1251.9 1835.2,1254.9 1840.4,1257.8 1845.6,1260.8 1850.8,1263.8 1856,1266.8 1861.2,1269.8 1866.4,1272.8 1871.6,1276 1876.8,1279.1 1882,1282.3 1887.1,1285.5 1892.3,1288.8 1897.5,1292 1902.7,1295.2 1907.9,1298.4 1913.1,1301.6 1918.3,1304.7 1923.5,1307.7 1928.7,1310.8 1933.8,1313.7 1939,1316.6 1944.2,1319.4 1949.4,1322.1 1954.6,1324.8 1959.8,1327.4 1965,1330 1970.2,1332.6 1975.4,1335.2 1980.6,1337.7 1985.8,1340.2 1990.9,1342.7 1996.1,1345.3 2001.3,1347.8 2006.5,1350.4 2011.7,1353.1 2016.9,1355.8 2022.1,1358.5 2027.3,1361 2032.5,1363.3 2037.7,1365.3 2042.8,1367.1 2048,1368.7 2053.2,1370.3 2058.4,1371.6 2063.6,1372.8" fill="none" stroke="#FF0000" stroke-width="3.3" stroke-linejoin="round"/>
<polyline points="1233.2,1133.1 1238.4,1133.1 1243.6,1133.1 1248.8,1133.1 1254,1133.1 1259.2,1133.2 1264.3,1133.2 1269.5,1133.2 1274.7,1133.2 1279.9,1133.3 1285.1,1133.3 1290.3,1133.3 1295.5,1133.4 1300.7,1133.4 1305.9,1133.5 1311,1133.5 1316.2,1133.6 1321.4,1133.6 1326.6,1133.7 1331.8,1133.8 1337,1133.8 1342.2,1133.9 1347.4,1134 1352.6,1134.1 1357.8,1134.1 1363,1134.2 1368.1,1134.3 1373.3,1134.4 1378.5,1134.5 1383.7,1134.6 1388.9,1134.6 1394.1,1134.7 1399.3,1134.8 1404.5,1134.9 1409.7,1135 1414.9,1135.1 1420,1135.2 1425.2,1135.3 1430.4,1135.4 1435.6,1135.5 1440.8,1135.6 1446,1135.7 1451.2,1135.8 1456.4,1136 1461.6,1136.1 1466.8,1136.3 1471.9,1136.4 1477.1,1136.6 1482.3,1136.8 1487.5,1137 1492.7,1137.2 1497.9,1137.4 1503.1,1137.7 1508.3,1137.9 1513.5,1138.2 1518.7,1138.4 1523.8,1138.7 1529,1139 1534.2,1139.2 1539.4,1139.5 1544.6,1139.8 1549.8,1140.2 1555,1140.5 1560.2,1140.8 1565.4,1141.1 1570.5,1141.5 1575.7,1141.8 1580.9,1142.2 1586.1,1142.5 1591.3,1142.9 1596.5,1143.3 1601.7,1143.8 1606.9,1144.3 1612.1,1144.8 1617.3,1145.3 1622.5,1145.9 1627.6,1146.5 1632.8,1147.2 1638,1147.9 1643.2,1148.6 1648.4,1149.4 1653.6,1150.3 1658.8,1151.3 1664,1152.5 1669.2,1153.7 1674.3,1155 1679.5,1156.4 1684.7,1157.9 1689.9,1159.4 1695.1,1161 1700.3,1162.6 1705.5,1164.1 1710.7,1165.7 1715.9,1167.2 1721.1,1168.8 1726.2,1170.4 1731.4,1172.1 1736.6,1173.8 1741.8,1175.5 1747,1177.3 1752.2,1179.1 1757.4,1180.9 1762.6,1182.8 1767.8,1184.7 1773,1186.6 1778.2,1188.6 1783.3,1190.6 1788.5,1192.6 1793.7,1194.7 1798.9,1196.8 1804.1,1199 1809.3,1201.2 1814.5,1203.5 1819.7,1205.9 1824.9,1208.3 1830.1,1210.8 1835.2,1213.3 1840.4,1215.8 1845.6,1218.3 1850.8,1220.9 1856,1223.5 1861.2,1226.1 1866.4,1228.8 1871.6,1231.5 1876.8,1234.4 1882,1237.2 1887.1,1240.1 1892.3,1243 1897.5,1245.9 1902.7,1248.9 1907.9,1251.8 1913.1,1254.7 1918.3,1257.6 1923.5,1260.5 1928.7,1263.3 1933.8,1266.1 1939,1268.9 1944.2,1271.6 1949.4,1274.3 1954.6,1276.9 1959.8,1279.6 1965,1282.3 1970.2,1284.9 1975.4,1287.5 1980.6,1290.1 1985.8,1292.6 1990.9,1295.2 1996.1,1297.7 2001.3,1300.1 2006.5,1302.6 2011.7,1305 2016.9,1307.4 2022.1,1309.8 2027.3,1312.1 2032.5,1314.3 2037.7,1316.3 2042.8,1318.3 2048,1320.1 2053.2,1321.9 2058.4,1323.5 2063.6,1325.1" fill="none" stroke="#BDBA00" stroke-width="3.3" stroke-linejoin="round"/>
<polyline points="1233.2,1119.9 1238.4,1119.9 1243.6,1119.9 1248.8,1119.9 1254,1120 1259.2,1120 1264.3,1120 1269.5,1120 1274.7,1120.1 1279.9,1120.1 1285.1,1120.2 1290.3,1120.2 1295.5,1120.2 1300.7,1120.3 1305.9,1120.4 1311,1120.4 1316.2,1120.5 1321.4,1120.5 1326.6,1120.6 1331.8,1120.7 1337,1120.8 1342.2,1120.8 1347.4,1120.9 1352.6,1121 1357.8,1121.1 1363,1121.2 1368.1,1121.3 1373.3,1121.4 1378.5,1121.5 1383.7,1121.6 1388.9,1121.7 1394.1,1121.8 1399.3,1121.9 1404.5,1122 1409.7,1122.1 1414.9,1122.2 1420,1122.3 1425.2,1122.4 1430.4,1122.5 1435.6,1122.6 1440.8,1122.8 1446,1122.9 1451.2,1123 1456.4,1123.1 1461.6,1123.3 1466.8,1123.5 1471.9,1123.6 1477.1,1123.8 1482.3,1124 1487.5,1124.2 1492.7,1124.4 1497.9,1124.6 1503.1,1124.9 1508.3,1125.1 1513.5,1125.4 1518.7,1125.6 1523.8,1125.9 1529,1126.2 1534.2,1126.5 1539.4,1126.8 1544.6,1127.1 1549.8,1127.4 1555,1127.8 1560.2,1128.1 1565.4,1128.5 1570.5,1128.8 1575.7,1129.2 1580.9,1129.6 1586.1,1130 1591.3,1130.4 1596.5,1130.9 1601.7,1131.4 1606.9,1132 1612.1,1132.6 1617.3,1133.3 1622.5,1134 1627.6,1134.8 1632.8,1135.6 1638,1136.4 1643.2,1137.2 1648.4,1138.1 1653.6,1139.1 1658.8,1140.1 1664,1141.2 1669.2,1142.4 1674.3,1143.6 1679.5,1144.9 1684.7,1146.3 1689.9,1147.7 1695.1,1149.2 1700.3,1150.7 1705.5,1152.2 1710.7,1153.7 1715.9,1155.3 1721.1,1157 1726.2,1158.7 1731.4,1160.5 1736.6,1162.4 1741.8,1164.3 1747,1166.3 1752.2,1168.3 1757.4,1170.4 1762.6,1172.5 1767.8,1174.6 1773,1176.8 1778.2,1179 1783.3,1181.3 1788.5,1183.6 1793.7,1185.9 1798.9,1188.3 1804.1,1190.8 1809.3,1193.3 1814.5,1196 1819.7,1198.7 1824.9,1201.4 1830.1,1204.2 1835.2,1207.1 1840.4,1209.9 1845.6,1212.8 1850.8,1215.6 1856,1218.4 1861.2,1221.3 1866.4,1224.2 1871.6,1227.1 1876.8,1230.1 1882,1233.1 1887.1,1236.1 1892.3,1239.1 1897.5,1242.2 1902.7,1245.2 1907.9,1248.2 1913.1,1251.2 1918.3,1254.2 1923.5,1257.1 1928.7,1260 1933.8,1262.9 1939,1265.7 1944.2,1268.5 1949.4,1271.3 1954.6,1274.1 1959.8,1276.9 1965,1279.7 1970.2,1282.4 1975.4,1285.1 1980.6,1287.8 1985.8,1290.3 1990.9,1292.8 1996.1,1295.3 2001.3,1297.6 2006.5,1299.8 2011.7,1302 2016.9,1304.1 2022.1,1306.1 2027.3,1308.1 2032.5,1310 2037.7,1311.9 2042.8,1313.8 2048,1315.6 2053.2,1317.4 2058.4,1319.1 2063.6,1320.7" fill="none" stroke="#000000" stroke-width="3.3" stroke-linejoin="round"/>
<path d="M1585.9 1138.1V1156.9M1578.4 1138.1h15M1578.4 1156.9h15M1648.4 1150.7V1169.5M1640.9 1150.7h15M1640.9 1169.5h15M1710.9 1166.4V1185.2M1703.4 1166.4h15M1703.4 1185.2h15M1793.5 1197.7V1216.6M1786 1197.7h15M1786 1216.6h15M2037.7 1382.8V1405.4M2030.2 1382.8h15M2030.2 1405.4h15M2063.6 1389.8V1427.4M2056.1 1389.8h15M2056.1 1427.4h15" fill="none" stroke="#F4107A" stroke-width="2.8"/>
<path d="M1233.2 1127.3L1239.8 1135L1233.2 1142.7L1226.6 1135Z" fill="#F4107A"/>
<path d="M1440.8 1130.4L1447.4 1138.1L1440.8 1145.8L1434.2 1138.1Z" fill="#F4107A"/>
<path d="M1585.9 1139.8L1592.5 1147.5L1585.9 1155.2L1579.3 1147.5Z" fill="#F4107A"/>
<path d="M1648.4 1152.4L1655 1160.1L1648.4 1167.8L1641.8 1160.1Z" fill="#F4107A"/>
<path d="M1710.9 1168.1L1717.5 1175.8L1710.9 1183.5L1704.3 1175.8Z" fill="#F4107A"/>
<path d="M1793.5 1199.5L1800.1 1207.2L1793.5 1214.9L1786.9 1207.2Z" fill="#F4107A"/>
<path d="M1856 1265.3L1862.6 1273L1856 1280.7L1849.4 1273Z" fill="#F4107A"/>
<path d="M1938.6 1296.7L1945.2 1304.4L1938.6 1312.1L1932 1304.4Z" fill="#F4107A"/>
<path d="M2001.1 1351.9L2007.7 1359.6L2001.1 1367.3L1994.5 1359.6Z" fill="#F4107A"/>
<path d="M2037.7 1386.4L2044.3 1394.1L2037.7 1401.8L2031.1 1394.1Z" fill="#F4107A"/>
<path d="M2063.6 1400.9L2070.2 1408.6L2063.6 1416.3L2057 1408.6Z" fill="#F4107A"/>
<path d="M1440.8 1112.4V1138.8M1433.3 1112.4h15M1433.3 1138.8h15M1585.9 1131.8V1150.7M1578.4 1131.8h15M1578.4 1150.7h15M1648.4 1147.5V1166.4M1640.9 1147.5h15M1640.9 1166.4h15M1710.9 1163.2V1182M1703.4 1163.2h15M1703.4 1182h15M1793.5 1183.3V1205.9M1786 1183.3h15M1786 1205.9h15M1856 1250.4V1269.3M1848.5 1250.4h15M1848.5 1269.3h15M1938.6 1286.2V1305M1931.1 1286.2h15M1931.1 1305h15M2037.7 1367.2V1389.8M2030.2 1367.2h15M2030.2 1389.8h15M2063.6 1396V1433.7M2056.1 1396h15M2056.1 1433.7h15" fill="none" stroke="#6804A0" stroke-width="2.8"/>
<path d="M1233.2 1111.2L1240.8 1096.4H1225.6Z" fill="#6804A0"/>
<path d="M1440.8 1133.2L1448.4 1118.4H1433.2Z" fill="#6804A0"/>
<path d="M1585.9 1148.9L1593.5 1134H1578.3Z" fill="#6804A0"/>
<path d="M1648.4 1164.5L1656 1149.7H1640.8Z" fill="#6804A0"/>
<path d="M1710.9 1180.2L1718.5 1165.4H1703.3Z" fill="#6804A0"/>
<path d="M1793.5 1202.2L1801.1 1187.4H1785.9Z" fill="#6804A0"/>
<path d="M1856 1267.5L1863.6 1252.6H1848.4Z" fill="#6804A0"/>
<path d="M1938.6 1303.2L1946.2 1288.4H1931Z" fill="#6804A0"/>
<path d="M2001.1 1312L2008.7 1297.2H1993.5Z" fill="#6804A0"/>
<path d="M2037.7 1386.1L2045.3 1371.2H2030.1Z" fill="#6804A0"/>
<path d="M2063.6 1422.5L2071.2 1407.6H2056Z" fill="#6804A0"/>
<path d="M1440.8 1145.7V1168.2M1433.3 1145.7h15M1433.3 1168.2h15M1585.9 1155.4V1178.6M1578.4 1155.4h15M1578.4 1178.6h15M1710.9 1175.1V1199M1703.4 1175.1h15M1703.4 1199h15M1793.5 1209V1234.8M1786 1209h15M1786 1234.8h15M1856 1278.7V1313.8M1848.5 1278.7h15M1848.5 1313.8h15M1938.6 1296.3V1330.1M1931.1 1296.3h15M1931.1 1330.1h15M2001.1 1321.4V1345.2M1993.6 1321.4h15M1993.6 1345.2h15M2037.7 1354V1379.1M2030.2 1354h15M2030.2 1379.1h15M2063.6 1376.6V1406.7M2056.1 1376.6h15M2056.1 1406.7h15" fill="none" stroke="#FF0000" stroke-width="2.8"/>
<path d="M1233.2 1139.3L1240.8 1154.1H1225.6Z" fill="#FF0000"/>
<path d="M1440.8 1149.3L1448.4 1164.2H1433.2Z" fill="#FF0000"/>
<path d="M1585.9 1159.4L1593.5 1174.2H1578.3Z" fill="#FF0000"/>
<path d="M1648.4 1169.4L1656 1184.2H1640.8Z" fill="#FF0000"/>
<path d="M1710.9 1179.5L1718.5 1194.3H1703.3Z" fill="#FF0000"/>
<path d="M1793.5 1214.3L1801.1 1229.1H1785.9Z" fill="#FF0000"/>
<path d="M1856 1288.7L1863.6 1303.5H1848.4Z" fill="#FF0000"/>
<path d="M1938.6 1305.6L1946.2 1320.4H1931Z" fill="#FF0000"/>
<path d="M2001.1 1325.7L2008.7 1340.5H1993.5Z" fill="#FF0000"/>
<path d="M2037.7 1358.9L2045.3 1373.8H2030.1Z" fill="#FF0000"/>
<path d="M2063.6 1384L2071.2 1398.9H2056Z" fill="#FF0000"/>
<path d="M1440.8 1123.7V1150M1433.3 1123.7h15M1433.3 1150h15M1585.9 1135.6V1154.4M1578.4 1135.6h15M1578.4 1154.4h15M1648.4 1146.3V1165.1M1640.9 1146.3h15M1640.9 1165.1h15M1710.9 1140.3V1188M1703.4 1140.3h15M1703.4 1188h15M1793.5 1165.1V1192.7M1786 1165.1h15M1786 1192.7h15M1856 1238.5V1257.3M1848.5 1238.5h15M1848.5 1257.3h15M1938.6 1271.8V1290.6M1931.1 1271.8h15M1931.1 1290.6h15M2001.1 1271.2V1293.7M1993.6 1271.2h15M1993.6 1293.7h15M2037.7 1301.3V1320.1M2030.2 1301.3h15M2030.2 1320.1h15" fill="none" stroke="#BDBA00" stroke-width="2.8"/>
<rect x="1225.7" y="1129.4" width="15" height="15" fill="#BDBA00"/>
<rect x="1433.3" y="1129.4" width="15" height="15" fill="#BDBA00"/>
<rect x="1578.4" y="1137.5" width="15" height="15" fill="#BDBA00"/>
<rect x="1640.9" y="1148.2" width="15" height="15" fill="#BDBA00"/>
<rect x="1703.4" y="1156.7" width="15" height="15" fill="#BDBA00"/>
<rect x="1786" y="1171.4" width="15" height="15" fill="#BDBA00"/>
<rect x="1848.5" y="1240.4" width="15" height="15" fill="#BDBA00"/>
<rect x="1931.1" y="1273.7" width="15" height="15" fill="#BDBA00"/>
<rect x="1993.6" y="1274.9" width="15" height="15" fill="#BDBA00"/>
<rect x="2030.2" y="1303.2" width="15" height="15" fill="#BDBA00"/>
<rect x="2056.1" y="1342.1" width="15" height="15" fill="#BDBA00"/>
<path d="M1233.2 1111.1V1132.5M1225.7 1111.1h15M1225.7 1132.5h15M1440.8 1116.8V1138.1M1433.3 1116.8h15M1433.3 1138.1h15M1585.9 1114.9V1141.3M1578.4 1114.9h15M1578.4 1141.3h15M1648.4 1124.3V1147.5M1640.9 1124.3h15M1640.9 1147.5h15M1793.5 1166.4V1187.7M1786 1166.4h15M1786 1187.7h15M1856 1219.7V1242.3M1848.5 1219.7h15M1848.5 1242.3h15M1938.6 1256.7V1280.6M1931.1 1256.7h15M1931.1 1280.6h15M2037.7 1295V1320.1M2030.2 1295h15M2030.2 1320.1h15" fill="none" stroke="#000000" stroke-width="2.8"/>
<circle cx="1233.2" cy="1121.8" r="7.5" fill="#000000"/>
<circle cx="1440.8" cy="1127.5" r="7.5" fill="#000000"/>
<circle cx="1585.9" cy="1128.1" r="7.5" fill="#000000"/>
<circle cx="1648.4" cy="1135.9" r="7.5" fill="#000000"/>
<circle cx="1710.9" cy="1151.9" r="7.5" fill="#000000"/>
<circle cx="1793.5" cy="1177" r="7.5" fill="#000000"/>
<circle cx="1856" cy="1231" r="7.5" fill="#000000"/>
<circle cx="1938.6" cy="1268.6" r="7.5" fill="#000000"/>
<circle cx="2001.1" cy="1282.4" r="7.5" fill="#000000"/>
<circle cx="2037.7" cy="1307.5" r="7.5" fill="#000000"/>
<circle cx="2063.6" cy="1334.5" r="7.5" fill="#000000"/>
<text transform="translate(1122.6 1047.2)" font-size="44.0" font-weight="bold" text-anchor="start">D</text>
<text transform="translate(1649 1057.1) scale(1 1.065)" font-size="40.1" font-weight="bold" text-anchor="middle">Ctn[15-34]</text>
<text transform="translate(1219.4 1756.8) scale(1 1.12)" font-size="27.8" font-weight="bold" text-anchor="end">0</text>
<text transform="translate(1219.4 1631.3) scale(1 1.12)" font-size="27.8" font-weight="bold" text-anchor="end">20</text>
<text transform="translate(1219.4 1505.8) scale(1 1.12)" font-size="27.8" font-weight="bold" text-anchor="end">40</text>
<text transform="translate(1219.4 1380.3) scale(1 1.12)" font-size="27.8" font-weight="bold" text-anchor="end">60</text>
<text transform="translate(1219.4 1254.8) scale(1 1.12)" font-size="27.8" font-weight="bold" text-anchor="end">80</text>
<text transform="translate(1219.4 1129.3) scale(1 1.12)" font-size="27.8" font-weight="bold" text-anchor="end">100</text>
<text transform="translate(1231.1 1820.4) scale(1 1.12)" font-size="27.8" font-weight="bold" text-anchor="middle">0.01</text>
<text transform="translate(1439.1 1820.4) scale(1 1.12)" font-size="27.8" font-weight="bold" text-anchor="middle">0.1</text>
<text transform="translate(1647 1820.4) scale(1 1.12)" font-size="27.8" font-weight="bold" text-anchor="middle">1</text>
<text transform="translate(1855.55 1820.4) scale(1 1.12)" font-size="27.8" font-weight="bold" text-anchor="middle">10</text>
<text transform="translate(2063 1820.4) scale(1 1.12)" font-size="27.8" font-weight="bold" text-anchor="middle">100</text>
<text transform="translate(1160.55 1416) rotate(-90) scale(1 1.07)" font-size="30.45" font-weight="bold" text-anchor="middle">MDA-MB-231 Cell Viability (%)</text>
<text transform="translate(1648.3 1865.2) scale(1 1.07)" font-size="30.8" font-weight="bold" text-anchor="middle">Concentration (<tspan font-family="'Liberation Serif','DejaVu Serif',serif" font-weight="bold" font-size="30">µ</tspan>M)</text>
</g>
<g id="legend">
<line x1="2218.3" y1="661.2" x2="2279.8" y2="661.2" stroke="#000000" stroke-width="5.9"/>
<circle cx="2249.2" cy="661.2" r="11.5" fill="#000000"/>
<text transform="translate(2314.2 676.2) scale(1 1.035)" font-size="40.4" font-weight="normal" text-anchor="start">Unlabeled</text>
<line x1="2218.3" y1="730.7" x2="2279.8" y2="730.7" stroke="#BDBA00" stroke-width="5.9"/>
<rect x="2237.7" y="719.2" width="22.9" height="22.9" fill="#BDBA00"/>
<text transform="translate(2314.2 745.7) scale(1 1.035)" font-size="40.4" font-weight="normal" text-anchor="start">CF</text>
<line x1="2218.3" y1="800.1" x2="2279.8" y2="800.1" stroke="#FF0000" stroke-width="5.9"/>
<path d="M2249.2 788.5L2260.8 811.1H2237.6Z" fill="#FF0000"/>
<text transform="translate(2314.2 815.1) scale(1 1.035)" font-size="40.4" font-weight="normal" text-anchor="start">RhB</text>
<line x1="2218.3" y1="869" x2="2279.8" y2="869" stroke="#6804A0" stroke-width="5.9"/>
<path d="M2249.2 880.6L2260.8 858H2237.6Z" fill="#6804A0"/>
<text transform="translate(2314.2 884) scale(1 1.035)" font-size="40.4" font-weight="normal" text-anchor="start">Q570</text>
<line x1="2218.3" y1="938.1" x2="2279.8" y2="938.1" stroke="#F4107A" stroke-width="5.9"/>
<path d="M2249.2 926.3L2259.3 938.1L2249.2 949.9L2239.1 938.1Z" fill="#F4107A"/>
<text transform="translate(2314.2 953.1) scale(1 1.035)" font-size="40.4" font-weight="normal" text-anchor="start">TF3</text>
</g>
</svg>
</body>
</html>
